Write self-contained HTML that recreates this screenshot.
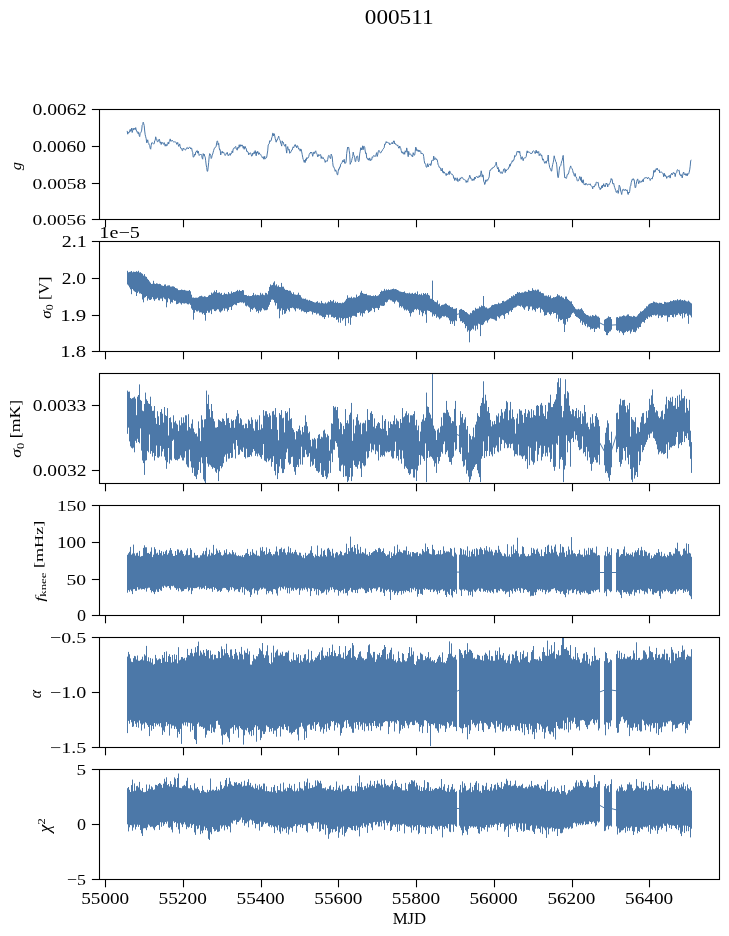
<!DOCTYPE html><html><head><meta charset="utf-8"><style>html,body{margin:0;padding:0;background:#fff;}svg{display:block;will-change:transform;}text{font-family:"Liberation Serif",serif;fill:#000;stroke:#000;stroke-width:0px;}</style></head><body>
<svg width="729" height="936" viewBox="0 0 729 936">
<rect x="0" y="0" width="729" height="936" fill="#fff"/>
<defs>
<clipPath id="c0"><rect x="99.5" y="109.5" width="620.0" height="110.0"/></clipPath>
<clipPath id="c1"><rect x="99.5" y="241.5" width="620.0" height="110.0"/></clipPath>
<clipPath id="c2"><rect x="99.5" y="373.5" width="620.0" height="110.0"/></clipPath>
<clipPath id="c3"><rect x="99.5" y="505.5" width="620.0" height="110.0"/></clipPath>
<clipPath id="c4"><rect x="99.5" y="637.5" width="620.0" height="110.0"/></clipPath>
<clipPath id="c5"><rect x="99.5" y="769.5" width="620.0" height="110.0"/></clipPath>
</defs>
<path clip-path="url(#c0)" d="M127.2 130.9 127.7 134.2 128.2 132.2 128.7 133.1 129.2 132.3 129.7 130.6 130.2 129.4 130.7 131.4 131.2 130.8 131.7 128.0 132.2 132.5 132.7 130.6 133.2 128.4 133.7 129.9 134.2 128.0 134.7 128.5 135.2 129.6 135.7 127.6 136.2 129.9 136.7 131.4 137.2 132.3 137.7 131.6 138.2 133.9 138.7 132.3 139.2 135.4 139.7 136.6 140.2 133.2 140.7 132.7 141.2 131.9 141.7 130.1 142.2 125.2 142.7 124.7 143.2 122.2 143.7 123.7 144.2 125.5 144.7 131.0 145.2 134.8 145.7 136.8 146.2 138.7 146.7 142.8 147.2 141.8 147.7 139.8 148.2 142.8 148.7 143.3 149.2 145.0 149.7 145.4 150.2 148.3 150.7 149.2 151.2 145.3 151.7 142.8 152.2 142.5 152.7 142.9 153.2 143.6 153.7 144.1 154.2 143.7 154.7 140.7 155.2 140.4 155.7 136.8 156.2 138.7 156.7 139.0 157.2 141.6 157.7 141.9 158.2 140.7 158.7 141.0 159.2 139.1 159.7 140.7 160.2 143.1 160.7 141.9 161.2 144.5 161.7 142.3 162.2 142.8 162.7 142.6 163.2 143.8 163.7 144.4 164.2 142.6 164.7 143.9 165.2 146.2 165.7 144.4 166.2 144.2 166.7 145.9 167.2 145.5 167.7 144.3 168.2 142.1 168.7 144.0 169.2 141.5 169.7 141.1 170.2 138.9 170.7 141.2 171.2 140.8 171.7 141.2 172.2 140.2 172.7 141.0 173.2 141.6 173.7 142.0 174.2 141.8 174.7 141.9 175.2 142.0 175.7 142.1 176.2 142.4 176.7 144.3 177.2 143.9 177.7 142.4 178.2 144.7 178.7 146.4 179.2 145.2 179.7 143.9 180.2 146.5 180.7 148.3 181.2 148.4 181.7 148.4 182.2 150.7 182.7 150.6 183.2 148.1 183.7 148.9 184.2 148.6 184.7 149.2 185.2 150.2 185.7 149.8 186.2 148.9 186.7 147.8 187.2 147.4 187.7 148.0 188.2 149.0 188.7 147.9 189.2 147.3 189.7 147.3 190.2 147.4 190.7 149.0 191.2 148.1 191.7 148.2 192.2 151.2 192.7 152.3 193.2 157.2 193.7 157.0 194.2 156.1 194.7 154.0 195.2 155.1 195.7 152.1 196.2 152.1 196.7 150.9 197.2 150.5 197.7 153.2 198.2 151.1 198.7 153.4 199.2 155.5 199.7 155.0 200.2 154.3 200.7 155.0 201.2 154.4 201.7 155.5 202.2 158.2 202.7 159.2 203.2 153.6 203.7 155.4 204.2 154.1 204.7 156.1 205.2 157.1 205.7 160.8 206.2 165.0 206.7 167.6 207.2 171.3 207.7 171.2 208.2 167.1 208.7 162.3 209.2 156.4 209.7 153.6 210.2 154.1 210.7 155.3 211.2 158.5 211.7 157.5 212.2 155.2 212.7 154.1 213.2 152.2 213.7 150.3 214.2 148.8 214.7 147.8 215.2 147.7 215.7 147.0 216.2 146.1 216.7 142.7 217.2 140.9 217.7 141.3 218.2 145.0 218.7 143.3 219.2 147.8 219.7 150.0 220.2 149.6 220.7 155.0 221.2 152.7 221.7 152.4 222.2 151.2 222.7 153.1 223.2 152.6 223.7 152.2 224.2 153.6 224.7 154.6 225.2 155.5 225.7 154.6 226.2 153.5 226.7 154.1 227.2 152.3 227.7 154.2 228.2 155.8 228.7 155.2 229.2 154.2 229.7 153.6 230.2 155.4 230.7 153.6 231.2 153.9 231.7 152.7 232.2 150.9 232.7 152.7 233.2 148.9 233.7 148.3 234.2 148.5 234.7 147.4 235.2 146.9 235.7 146.4 236.2 149.0 236.7 148.9 237.2 150.2 237.7 147.4 238.2 147.2 238.7 148.3 239.2 144.8 239.7 147.2 240.2 144.7 240.7 146.2 241.2 144.9 241.7 146.1 242.2 144.9 242.7 145.8 243.2 148.2 243.7 146.3 244.2 149.3 244.7 146.9 245.2 146.4 245.7 148.3 246.2 148.4 246.7 151.4 247.2 151.1 247.7 152.1 248.2 152.2 248.7 154.9 249.2 153.5 249.7 153.7 250.2 152.7 250.7 153.1 251.2 154.8 251.7 156.2 252.2 155.8 252.7 153.1 253.2 154.2 253.7 153.3 254.2 151.8 254.7 153.6 255.2 150.6 255.7 153.4 256.2 155.8 256.7 151.9 257.2 153.2 257.7 151.3 258.2 152.7 258.7 154.5 259.2 152.7 259.7 154.0 260.2 154.0 260.7 154.5 261.2 155.6 261.7 156.4 262.2 157.7 262.7 157.8 263.2 156.7 263.7 159.1 264.2 159.2 264.7 156.3 265.2 158.8 265.7 158.5 266.2 158.1 266.7 157.2 267.2 154.0 267.7 150.9 268.2 145.0 268.7 144.2 269.2 143.8 269.7 140.7 270.2 141.5 270.7 140.6 271.2 140.5 271.7 137.9 272.2 136.7 272.7 133.2 273.2 133.4 273.7 136.0 274.2 133.7 274.7 135.7 275.2 138.3 275.7 140.5 276.2 142.2 276.7 140.1 277.2 140.3 277.7 138.5 278.2 137.5 278.7 136.1 279.2 138.6 279.7 139.7 280.2 140.6 280.7 143.1 281.2 144.2 281.7 146.1 282.2 140.9 282.7 142.6 283.2 142.1 283.7 143.9 284.2 145.1 284.7 146.1 285.2 146.4 285.7 144.2 286.2 149.5 286.7 153.1 287.2 148.0 287.7 146.6 288.2 149.1 288.7 150.2 289.2 149.3 289.7 153.3 290.2 152.3 290.7 152.5 291.2 151.2 291.7 150.1 292.2 150.0 292.7 148.1 293.2 146.8 293.7 147.8 294.2 146.6 294.7 145.1 295.2 144.5 295.7 146.3 296.2 145.9 296.7 147.8 297.2 145.6 297.7 145.9 298.2 147.6 298.7 149.2 299.2 148.8 299.7 149.1 300.2 151.2 300.7 148.9 301.2 149.4 301.7 151.9 302.2 154.4 302.7 157.2 303.2 159.6 303.7 160.0 304.2 162.3 304.7 160.1 305.2 162.5 305.7 158.9 306.2 160.5 306.7 157.7 307.2 158.6 307.7 157.7 308.2 157.8 308.7 156.8 309.2 154.5 309.7 153.4 310.2 153.5 310.7 152.0 311.2 152.8 311.7 152.0 312.2 154.0 312.7 156.3 313.2 154.3 313.7 152.2 314.2 152.1 314.7 153.6 315.2 151.7 315.7 150.8 316.2 152.5 316.7 153.5 317.2 154.5 317.7 156.9 318.2 156.2 318.7 154.5 319.2 155.6 319.7 154.9 320.2 154.8 320.7 154.6 321.2 158.5 321.7 156.6 322.2 157.9 322.7 158.5 323.2 157.5 323.7 158.9 324.2 159.5 324.7 159.7 325.2 162.4 325.7 160.9 326.2 160.9 326.7 161.2 327.2 161.4 327.7 159.5 328.2 156.8 328.7 155.4 329.2 155.6 329.7 156.6 330.2 158.3 330.7 158.6 331.2 154.1 331.7 155.5 332.2 156.5 332.7 162.4 333.2 166.6 333.7 166.6 334.2 168.2 334.7 168.9 335.2 171.3 335.7 169.9 336.2 171.2 336.7 172.4 337.2 174.6 337.7 174.9 338.2 171.3 338.7 168.9 339.2 169.3 339.7 167.0 340.2 167.2 340.7 164.2 341.2 163.8 341.7 162.9 342.2 162.3 342.7 160.4 343.2 162.0 343.7 161.1 344.2 159.3 344.7 163.3 345.2 163.1 345.7 163.2 346.2 160.9 346.7 153.5 347.2 150.0 347.7 147.0 348.2 147.7 348.7 147.3 349.2 150.5 349.7 154.2 350.2 164.3 350.7 162.7 351.2 162.4 351.7 160.3 352.2 158.2 352.7 156.7 353.2 152.1 353.7 154.9 354.2 155.7 354.7 157.8 355.2 161.5 355.7 161.6 356.2 158.1 356.7 156.4 357.2 155.9 357.7 156.1 358.2 160.7 358.7 161.7 359.2 160.5 359.7 153.9 360.2 151.4 360.7 147.8 361.2 147.8 361.7 150.0 362.2 148.9 362.7 145.8 363.2 149.7 363.7 146.5 364.2 146.3 364.7 147.2 365.2 151.0 365.7 153.6 366.2 152.9 366.7 158.0 367.2 158.1 367.7 159.4 368.2 158.5 368.7 160.1 369.2 159.9 369.7 157.9 370.2 160.8 370.7 159.5 371.2 159.8 371.7 159.9 372.2 156.9 372.7 157.4 373.2 156.1 373.7 155.5 374.2 156.3 374.7 155.9 375.2 156.5 375.7 156.0 376.2 154.0 376.7 152.6 377.2 156.5 377.7 154.9 378.2 151.9 378.7 150.5 379.2 150.5 379.7 151.6 380.2 152.8 380.7 152.8 381.2 152.5 381.7 151.1 382.2 150.8 382.7 149.5 383.2 149.1 383.7 148.2 384.2 147.8 384.7 143.9 385.2 144.4 385.7 143.2 386.2 141.6 386.7 142.8 387.2 141.9 387.7 142.4 388.2 143.0 388.7 143.1 389.2 142.9 389.7 144.8 390.2 144.0 390.7 144.1 391.2 143.8 391.7 142.7 392.2 142.3 392.7 144.0 393.2 142.5 393.7 140.9 394.2 140.9 394.7 144.0 395.2 143.4 395.7 144.5 396.2 144.4 396.7 145.0 397.2 145.7 397.7 144.9 398.2 146.6 398.7 148.1 399.2 148.2 399.7 146.0 400.2 147.3 400.7 148.3 401.2 150.5 401.7 152.7 402.2 153.1 402.7 151.8 403.2 153.8 403.7 154.1 404.2 152.3 404.7 154.3 405.2 150.8 405.7 151.9 406.2 152.2 406.7 147.9 407.2 150.4 407.7 152.8 408.2 156.7 408.7 151.4 409.2 154.3 409.7 154.2 410.2 153.8 410.7 154.1 411.2 155.2 411.7 156.2 412.2 155.5 412.7 156.8 413.2 152.7 413.7 154.5 414.2 155.3 414.7 155.0 415.2 151.8 415.7 147.1 416.2 147.9 416.7 150.7 417.2 150.7 417.7 149.7 418.2 151.5 418.7 150.2 419.2 151.8 419.7 150.3 420.2 150.8 420.7 151.4 421.2 153.9 421.7 153.1 422.2 153.7 422.7 153.5 423.2 154.0 423.7 156.5 424.2 160.4 424.7 163.3 425.2 163.4 425.7 164.2 426.2 167.0 426.7 167.4 427.2 166.3 427.7 163.6 428.2 166.9 428.7 165.2 429.2 164.6 429.7 164.4 430.2 163.7 430.7 165.6 431.2 164.6 431.7 160.5 432.2 160.5 432.7 160.1 433.2 160.7 433.7 156.1 434.2 159.3 434.7 159.6 435.2 157.7 435.7 158.2 436.2 159.9 436.7 159.2 437.2 159.6 437.7 162.3 438.2 164.9 438.7 165.6 439.2 167.4 439.7 167.1 440.2 168.0 440.7 169.1 441.2 171.0 441.7 169.8 442.2 168.2 442.7 172.4 443.2 171.3 443.7 173.2 444.2 171.9 444.7 173.2 445.2 173.3 445.7 173.9 446.2 175.6 446.7 173.5 447.2 174.4 447.7 174.5 448.2 173.8 448.7 171.8 449.2 174.6 449.7 170.9 450.2 172.2 450.7 173.2 451.2 174.0 451.7 174.3 452.2 174.2 452.7 175.1 453.2 175.3 453.7 178.3 454.2 177.9 454.7 180.5 455.2 177.8 455.7 179.3 456.2 179.8 456.7 180.4 457.2 177.8 457.7 181.3 458.2 181.5 458.7 180.9 459.2 179.0 459.7 180.6 460.2 177.9 460.7 179.0 461.2 177.5 461.7 177.4 462.2 177.4 462.7 177.7 463.2 179.1 463.7 179.6 464.2 179.8 464.7 179.6 465.2 180.0 465.7 180.4 466.2 182.5 466.7 180.8 467.2 181.2 467.7 182.2 468.2 178.9 468.7 178.9 469.2 177.6 469.7 175.2 470.2 176.4 470.7 178.6 471.2 178.3 471.7 179.4 472.2 180.7 472.7 179.2 473.2 178.8 473.7 180.3 474.2 180.2 474.7 177.0 475.2 179.0 475.7 177.2 476.2 176.7 476.7 176.1 477.2 176.7 477.7 177.8 478.2 177.1 478.7 177.3 479.2 175.6 479.7 177.1 480.2 176.2 480.7 174.2 481.2 170.8 481.7 173.4 482.2 177.1 482.7 174.7 483.2 175.1 483.7 181.4 484.2 182.0 484.7 184.5 485.2 183.6 485.7 179.9 486.2 180.5 486.7 181.4 487.2 179.5 487.7 180.3 488.2 179.3 488.7 178.2 489.2 176.9 489.7 171.4 490.2 170.0 490.7 170.3 491.2 168.9 491.7 168.5 492.2 168.8 492.7 168.2 493.2 167.0 493.7 167.4 494.2 167.1 494.7 166.2 495.2 165.2 495.7 164.8 496.2 162.1 496.7 165.3 497.2 167.4 497.7 169.0 498.2 167.4 498.7 172.0 499.2 169.7 499.7 171.6 500.2 172.5 500.7 173.3 501.2 171.7 501.7 172.2 502.2 173.6 502.7 172.4 503.2 171.3 503.7 169.1 504.2 168.9 504.7 168.7 505.2 172.6 505.7 169.6 506.2 171.1 506.7 169.9 507.2 169.7 507.7 169.2 508.2 169.2 508.7 167.3 509.2 167.4 509.7 164.4 510.2 166.2 510.7 164.0 511.2 163.0 511.7 162.8 512.2 160.8 512.7 161.6 513.2 160.0 513.7 160.4 514.2 158.8 514.7 155.5 515.2 156.5 515.7 156.0 516.2 155.1 516.7 153.1 517.2 151.2 517.7 151.8 518.2 151.8 518.7 151.0 519.2 153.0 519.7 151.4 520.2 154.7 520.7 156.4 521.2 159.3 521.7 157.5 522.2 156.7 522.7 158.8 523.2 160.7 523.7 158.3 524.2 158.2 524.7 157.8 525.2 157.9 525.7 157.6 526.2 156.5 526.7 153.1 527.2 150.8 527.7 153.0 528.2 151.6 528.7 152.1 529.2 152.1 529.7 152.5 530.2 153.3 530.7 153.0 531.2 154.0 531.7 153.3 532.2 153.1 532.7 151.3 533.2 150.8 533.7 151.1 534.2 151.4 534.7 151.9 535.2 153.6 535.7 151.4 536.2 150.2 536.7 152.9 537.2 151.5 537.7 153.2 538.2 152.2 538.7 151.5 539.2 155.7 539.7 154.2 540.2 153.8 540.7 153.9 541.2 155.9 541.7 155.0 542.2 157.8 542.7 160.2 543.2 158.9 543.7 160.6 544.2 161.8 544.7 163.3 545.2 162.7 545.7 161.4 546.2 163.3 546.7 161.0 547.2 160.9 547.7 159.7 548.2 155.0 548.7 162.6 549.2 164.6 549.7 167.6 550.2 168.8 550.7 168.8 551.2 171.1 551.7 171.1 552.2 167.1 552.7 164.4 553.2 162.7 553.7 159.9 554.2 155.8 554.7 158.3 555.2 159.4 555.7 161.5 556.2 162.0 556.7 164.8 557.2 170.1 557.7 176.1 558.2 177.7 558.7 175.1 559.2 170.2 559.7 166.7 560.2 166.4 560.7 165.7 561.2 163.6 561.7 161.1 562.2 160.3 562.7 157.3 563.2 155.4 563.7 163.9 564.2 171.1 564.7 177.6 565.2 177.0 565.7 177.8 566.2 178.5 566.7 177.4 567.2 174.8 567.7 174.0 568.2 174.3 568.7 173.1 569.2 170.4 569.7 169.3 570.2 167.2 570.7 165.9 571.2 167.6 571.7 168.3 572.2 168.8 572.7 170.5 573.2 172.9 573.7 172.9 574.2 175.5 574.7 176.3 575.2 173.5 575.7 176.5 576.2 177.0 576.7 178.4 577.2 180.5 577.7 181.1 578.2 180.9 578.7 179.7 579.2 178.7 579.7 176.5 580.2 177.7 580.7 180.4 581.2 176.9 581.7 182.2 582.2 180.5 582.7 183.1 583.2 179.7 583.7 182.9 584.2 184.6 584.7 184.0 585.2 185.1 585.7 183.2 586.2 183.7 586.7 183.7 587.2 185.1 587.7 185.0 588.2 184.4 588.7 184.2 589.2 184.2 589.7 184.6 590.2 183.8 590.7 185.4 591.2 185.9 591.7 186.1 592.2 186.7 592.7 188.9 593.2 186.1 593.7 186.6 594.2 187.1 594.7 185.8 595.2 184.5 595.7 185.3 596.2 182.2 596.7 182.1 597.2 182.7 597.7 182.6 598.2 182.4 598.7 186.3 599.2 187.8 599.7 187.6 600.2 189.7 600.7 188.0 601.2 188.5 601.7 185.8 602.2 188.0 602.7 185.0 603.2 186.0 603.7 183.7 604.2 186.5 604.7 185.5 605.2 186.8 605.7 184.7 606.2 183.0 606.7 184.1 607.2 183.7 607.7 187.0 608.2 184.8 608.7 184.3 609.2 184.7 609.7 183.3 610.2 182.5 610.7 180.4 611.2 178.5 611.7 179.8 612.2 179.4 612.7 183.8 613.2 184.0 613.7 183.3 614.2 185.9 614.7 187.5 615.2 189.0 615.7 190.4 616.2 192.3 616.7 192.4 617.2 190.6 617.7 190.7 618.2 193.4 618.7 190.7 619.2 185.2 619.7 186.2 620.2 187.4 620.7 191.3 621.2 192.6 621.7 194.5 622.2 191.0 622.7 189.5 623.2 189.1 623.7 189.8 624.2 190.7 624.7 189.7 625.2 190.0 625.7 189.3 626.2 190.9 626.7 190.3 627.2 189.9 627.7 193.7 628.2 194.5 628.7 192.0 629.2 192.9 629.7 191.3 630.2 186.6 630.7 186.0 631.2 182.7 631.7 181.0 632.2 179.4 632.7 180.1 633.2 178.6 633.7 179.8 634.2 179.7 634.7 184.2 635.2 187.9 635.7 187.4 636.2 184.4 636.7 181.3 637.2 179.9 637.7 178.9 638.2 181.4 638.7 183.7 639.2 181.8 639.7 180.7 640.2 182.4 640.7 181.9 641.2 182.3 641.7 181.1 642.2 181.4 642.7 179.7 643.2 181.9 643.7 178.8 644.2 178.6 644.7 178.3 645.2 177.4 645.7 178.2 646.2 177.6 646.7 177.6 647.2 178.0 647.7 179.0 648.2 177.2 648.7 177.7 649.2 178.0 649.7 178.5 650.2 180.5 650.7 179.3 651.2 178.5 651.7 178.5 652.2 179.1 652.7 176.6 653.2 176.5 653.7 170.6 654.2 170.2 654.7 172.3 655.2 171.9 655.7 169.9 656.2 168.7 656.7 169.7 657.2 168.1 657.7 169.9 658.2 170.1 658.7 170.6 659.2 169.8 659.7 172.8 660.2 172.0 660.7 172.0 661.2 171.8 661.7 172.1 662.2 172.9 662.7 173.5 663.2 173.8 663.7 176.8 664.2 173.2 664.7 175.8 665.2 174.8 665.7 176.4 666.2 176.1 666.7 178.4 667.2 177.1 667.7 176.7 668.2 176.2 668.7 177.1 669.2 175.3 669.7 176.0 670.2 178.1 670.7 174.9 671.2 174.0 671.7 173.2 672.2 174.9 672.7 173.8 673.2 172.5 673.7 172.6 674.2 173.8 674.7 172.9 675.2 176.6 675.7 173.7 676.2 173.0 676.7 172.5 677.2 169.9 677.7 169.6 678.2 170.2 678.7 170.7 679.2 170.3 679.7 174.6 680.2 174.2 680.7 175.9 681.2 176.0 681.7 174.7 682.2 177.9 682.7 175.4 683.2 172.9 683.7 172.0 684.2 174.3 684.7 174.9 685.2 173.7 685.7 175.3 686.2 173.7 686.7 175.4 687.2 176.0 687.7 173.5 688.2 174.3 688.7 173.8 689.2 172.2 689.7 169.9 690.2 166.2 690.7 160.8 691.2 159.8" fill="none" stroke="#4c78a8" stroke-width="1.00" stroke-linejoin="round"/>
<path clip-path="url(#c1)" d="M127.5 270.8V284.5M128.5 272.3V285.6M129.5 271.9V287.4M130.5 271.7V289.3M131.5 271.0V294.2M132.5 272.3V289.0M133.5 271.6V290.5M134.5 271.9V291.4M135.5 271.9V292.1M136.5 271.2V296.0M137.5 271.8V292.9M138.5 270.8V291.6M139.5 272.5V293.5M140.5 272.2V293.4M141.5 273.2V294.1M142.5 273.8V299.5M143.5 275.6V302.3M144.5 274.1V297.7M145.5 276.4V297.1M146.5 276.9V296.0M147.5 278.8V300.6M148.5 279.9V298.6M149.5 281.4V299.9M150.5 282.7V300.0M151.5 284.0V299.2M152.5 283.8V297.2M153.5 280.8V299.3M154.5 283.5V300.9M155.5 284.0V299.3M156.5 283.3V298.8M157.5 283.6V297.8M158.5 284.1V300.2M159.5 283.8V300.4M160.5 284.1V298.6M161.5 285.3V298.6M162.5 285.7V301.1M163.5 286.0V297.5M164.5 284.6V298.8M165.5 284.4V299.4M166.5 286.2V307.3M167.5 285.6V302.3M168.5 285.4V298.3M169.5 285.3V299.3M170.5 286.6V303.7M171.5 286.6V302.1M172.5 286.3V302.6M173.5 286.4V299.9M174.5 286.9V300.9M175.5 288.0V300.8M176.5 288.3V304.2M177.5 288.7V304.0M178.5 290.1V303.4M179.5 290.1V302.6M180.5 290.0V303.4M181.5 289.5V304.6M182.5 289.9V303.1M183.5 290.1V303.4M184.5 289.9V303.6M185.5 290.4V303.2M186.5 290.7V303.4M187.5 290.8V304.2M188.5 290.8V304.4M189.5 290.0V303.6M190.5 291.3V304.9M191.5 294.7V308.5M192.5 297.6V309.9M193.5 297.5V319.7M194.5 297.9V312.8M195.5 297.7V310.1M196.5 297.7V311.4M197.5 297.8V311.5M198.5 297.2V310.7M199.5 296.3V312.5M200.5 296.1V312.3M201.5 295.7V312.5M202.5 296.5V314.2M203.5 296.8V313.1M204.5 296.2V314.9M205.5 296.6V320.7M206.5 297.1V313.0M207.5 297.0V310.8M208.5 295.7V312.7M209.5 294.9V312.6M210.5 295.0V310.5M211.5 292.6V314.1M212.5 293.5V309.3M213.5 292.4V309.3M214.5 290.6V311.0M215.5 292.1V311.2M216.5 290.0V310.3M217.5 292.9V309.2M218.5 292.7V309.4M219.5 292.3V311.6M220.5 293.7V312.5M221.5 292.9V311.3M222.5 295.0V310.4M223.5 294.5V308.4M224.5 292.8V310.8M225.5 294.0V308.5M226.5 293.8V308.7M227.5 294.3V311.5M228.5 292.0V310.0M229.5 293.5V307.3M230.5 293.7V306.9M231.5 291.4V310.0M232.5 292.9V306.3M233.5 292.0V305.1M234.5 292.1V304.3M235.5 291.7V304.8M236.5 291.0V305.3M237.5 289.9V303.0M238.5 291.2V303.0M239.5 289.9V302.6M240.5 291.0V302.2M241.5 290.9V302.6M242.5 290.0V302.3M243.5 290.3V303.3M244.5 294.9V302.6M245.5 295.0V305.7M246.5 295.1V306.4M247.5 296.0V305.5M248.5 295.5V306.7M249.5 296.1V307.6M250.5 296.0V311.8M251.5 296.0V309.0M252.5 295.1V309.9M253.5 292.9V308.3M254.5 295.3V307.6M255.5 294.4V309.2M256.5 295.3V311.8M257.5 294.9V310.9M258.5 295.1V313.2M259.5 295.4V310.5M260.5 292.8V311.8M261.5 294.6V310.4M262.5 293.4V308.2M263.5 294.8V309.3M264.5 295.2V310.4M265.5 292.8V310.2M266.5 293.1V310.2M267.5 294.4V309.6M268.5 291.1V306.8M269.5 286.9V304.8M270.5 284.4V302.0M271.5 285.3V299.7M272.5 284.9V299.5M273.5 282.6V300.0M274.5 281.3V302.4M275.5 285.4V305.5M276.5 284.3V303.1M277.5 286.5V309.2M278.5 285.4V308.7M279.5 287.0V318.3M280.5 287.1V310.7M281.5 282.9V308.4M282.5 286.7V314.7M283.5 286.7V310.0M284.5 288.7V313.9M285.5 289.9V313.4M286.5 289.9V311.2M287.5 290.0V308.7M288.5 290.8V310.1M289.5 290.6V311.6M290.5 290.8V308.0M291.5 292.6V308.1M292.5 294.0V307.6M293.5 292.3V308.2M294.5 294.4V309.5M295.5 294.6V311.3M296.5 294.9V308.2M297.5 294.6V308.7M298.5 292.7V308.4M299.5 294.9V309.8M300.5 295.3V309.3M301.5 297.4V311.5M302.5 298.6V310.7M303.5 298.6V311.4M304.5 298.9V312.2M305.5 298.5V312.0M306.5 299.7V313.4M307.5 299.7V312.0M308.5 300.6V312.0M309.5 299.9V311.4M310.5 300.8V311.2M311.5 301.0V311.7M312.5 301.5V314.5M313.5 302.0V312.4M314.5 302.4V313.0M315.5 302.6V312.8M316.5 301.9V314.5M317.5 301.2V313.5M318.5 302.8V313.5M319.5 302.5V315.5M320.5 303.3V315.4M321.5 300.9V315.9M322.5 302.9V317.2M323.5 303.4V317.1M324.5 303.5V319.0M325.5 302.4V317.0M326.5 303.5V314.7M327.5 302.6V314.9M328.5 301.4V317.6M329.5 302.1V314.7M330.5 300.0V314.7M331.5 301.3V317.1M332.5 301.3V316.8M333.5 299.9V317.6M334.5 302.8V317.9M335.5 301.5V317.0M336.5 302.9V319.9M337.5 301.9V319.4M338.5 303.1V322.4M339.5 302.9V317.7M340.5 302.9V322.8M341.5 303.3V318.0M342.5 302.5V320.6M343.5 302.8V319.2M344.5 301.8V318.1M345.5 300.5V325.8M346.5 298.9V318.2M347.5 295.3V318.1M348.5 297.8V323.2M349.5 297.6V316.9M350.5 297.8V324.8M351.5 296.7V317.6M352.5 298.2V315.9M353.5 297.3V315.8M354.5 297.4V315.9M355.5 297.7V316.5M356.5 294.6V316.9M357.5 296.9V312.9M358.5 296.0V313.0M359.5 295.4V312.3M360.5 292.6V315.6M361.5 290.8V313.3M362.5 293.0V316.6M363.5 293.7V313.1M364.5 293.9V313.5M365.5 294.0V310.9M366.5 293.8V309.9M367.5 295.2V310.6M368.5 295.2V312.9M369.5 295.3V312.0M370.5 295.3V311.2M371.5 296.0V310.5M372.5 296.0V307.9M373.5 295.5V308.8M374.5 296.1V312.1M375.5 295.0V308.1M376.5 296.1V307.9M377.5 295.8V308.2M378.5 295.3V310.0M379.5 294.1V307.9M380.5 292.0V305.5M381.5 290.6V305.8M382.5 291.2V305.9M383.5 290.8V306.0M384.5 288.9V305.4M385.5 290.5V302.1M386.5 289.3V302.5M387.5 290.1V301.7M388.5 289.3V299.8M389.5 290.0V299.5M390.5 289.6V300.3M391.5 289.4V300.4M392.5 289.0V301.6M393.5 288.6V301.9M394.5 289.2V303.6M395.5 289.0V301.6M396.5 289.4V300.4M397.5 290.0V301.7M398.5 290.5V302.4M399.5 291.3V307.5M400.5 291.6V306.0M401.5 291.9V307.5M402.5 292.1V306.4M403.5 292.0V308.5M404.5 291.4V310.3M405.5 292.9V309.5M406.5 293.3V310.6M407.5 293.1V309.7M408.5 293.4V310.9M409.5 292.7V313.1M410.5 293.7V316.5M411.5 293.5V313.2M412.5 292.9V311.8M413.5 294.0V312.2M414.5 293.3V309.7M415.5 292.7V309.0M416.5 294.0V310.2M417.5 291.4V308.9M418.5 294.8V309.8M419.5 294.1V314.8M420.5 294.7V310.5M421.5 293.5V312.2M422.5 295.2V316.2M423.5 293.0V313.2M424.5 294.0V310.9M425.5 293.1V314.4M426.5 294.5V322.8M427.5 293.0V310.4M428.5 294.9V310.8M429.5 295.6V311.0M430.5 298.7V312.2M431.5 298.8V312.4M432.5 280.6V316.6M433.5 300.0V314.4M434.5 301.4V316.0M435.5 301.9V314.3M436.5 302.3V317.8M437.5 300.4V316.6M438.5 304.3V317.5M439.5 303.6V319.3M440.5 306.2V318.4M441.5 305.1V317.6M442.5 304.8V316.1M443.5 304.7V316.5M444.5 304.2V316.6M445.5 303.4V315.9M446.5 303.8V317.3M447.5 305.0V317.3M448.5 305.6V318.2M449.5 305.6V320.3M450.5 307.0V324.0M451.5 307.4V321.3M452.5 307.1V323.9M453.5 308.8V321.3M454.5 308.8V325.9M455.5 308.7V320.4M456.5 308.1V321.1M456.5 314.5 L459.5 313.7M459.5 309.9V318.2M460.5 309.2V321.3M461.5 308.9V321.1M462.5 309.9V322.9M463.5 310.0V322.3M464.5 310.9V324.1M465.5 312.0V328.2M466.5 312.1V326.1M467.5 313.2V331.7M468.5 314.2V330.3M469.5 314.6V342.3M470.5 312.8V331.2M471.5 313.2V329.9M472.5 310.7V328.7M473.5 310.1V329.5M474.5 310.6V325.6M475.5 307.8V330.7M476.5 308.9V325.7M477.5 308.6V329.3M478.5 308.5V323.7M479.5 306.4V324.2M480.5 307.2V336.1M481.5 305.5V324.9M482.5 306.1V325.1M483.5 296.0V324.3M484.5 306.2V322.3M485.5 307.5V320.8M486.5 307.4V320.6M487.5 308.5V322.6M488.5 308.4V320.3M489.5 307.8V319.2M490.5 307.2V318.3M491.5 305.6V318.7M492.5 304.9V318.9M493.5 305.0V319.2M494.5 304.3V319.6M495.5 304.1V320.5M496.5 304.1V320.8M497.5 304.2V316.3M498.5 302.7V317.2M499.5 303.6V318.4M500.5 303.4V316.3M501.5 303.0V315.4M502.5 301.0V314.9M503.5 300.8V315.7M504.5 301.6V318.9M505.5 301.2V313.9M506.5 300.4V313.1M507.5 299.6V313.0M508.5 299.3V314.7M509.5 298.1V311.4M510.5 298.1V310.5M511.5 296.2V312.0M512.5 296.5V310.0M513.5 295.2V308.2M514.5 295.8V307.6M515.5 294.0V307.4M516.5 293.8V306.7M517.5 292.0V305.7M518.5 292.7V305.7M519.5 292.1V306.0M520.5 293.0V306.7M521.5 292.6V305.6M522.5 292.4V307.1M523.5 292.6V308.4M524.5 291.7V309.8M525.5 291.3V307.4M526.5 291.8V306.3M527.5 291.9V306.3M528.5 289.9V311.0M529.5 290.6V309.3M530.5 291.0V306.6M531.5 290.9V306.5M532.5 288.2V310.3M533.5 289.9V309.1M534.5 290.4V310.1M535.5 289.7V311.7M536.5 290.6V308.3M537.5 289.6V309.0M538.5 289.6V307.9M539.5 291.8V307.5M540.5 291.6V312.7M541.5 293.1V308.9M542.5 293.1V309.9M543.5 293.4V311.8M544.5 295.7V315.7M545.5 295.7V315.2M546.5 295.6V315.0M547.5 296.4V312.5M548.5 295.1V312.4M549.5 296.9V314.0M550.5 295.5V315.4M551.5 298.3V313.9M552.5 298.0V312.0M553.5 297.1V313.7M554.5 297.3V313.0M555.5 297.0V313.0M556.5 296.3V318.5M557.5 294.1V314.7M558.5 295.3V321.8M559.5 295.4V318.8M560.5 296.8V320.2M561.5 296.1V320.0M562.5 297.4V319.2M563.5 297.7V323.7M564.5 299.1V332.0M565.5 296.6V324.7M566.5 296.6V319.0M567.5 298.9V321.7M568.5 299.9V318.1M569.5 300.8V318.0M570.5 301.5V317.1M571.5 301.3V314.5M572.5 304.1V313.1M573.5 305.7V312.6M574.5 307.1V313.8M575.5 308.7V316.0M576.5 309.3V316.9M577.5 309.4V317.3M578.5 308.8V318.1M579.5 309.5V319.0M580.5 309.1V322.6M581.5 308.2V320.8M582.5 309.7V324.9M583.5 311.2V322.4M584.5 313.1V324.6M585.5 313.9V326.1M586.5 314.9V323.9M587.5 315.0V327.4M588.5 315.6V326.5M589.5 316.4V327.0M590.5 315.7V329.5M591.5 316.5V328.6M592.5 315.0V329.0M593.5 315.6V328.3M594.5 316.0V332.0M595.5 314.7V328.9M596.5 315.6V329.0M597.5 316.5V327.7M598.5 316.6V327.7M599.5 317.8V328.8M599.5 322.7 L604.5 325.3M604.5 319.7V330.9M605.5 319.0V332.0M606.5 318.5V335.1M607.5 317.8V335.2M608.5 316.3V333.0M609.5 317.1V331.6M610.5 317.0V331.3M611.5 319.1V329.7M611.5 325.1 L616.5 324.8M616.5 317.3V330.1M617.5 317.0V330.9M618.5 317.9V330.3M619.5 316.5V332.7M620.5 316.5V331.1M621.5 316.6V331.7M622.5 316.0V333.2M623.5 315.3V335.1M624.5 315.7V332.7M625.5 316.3V332.1M626.5 315.6V330.9M627.5 314.5V332.0M628.5 314.4V331.1M629.5 316.0V330.5M630.5 316.2V333.6M631.5 316.3V331.7M632.5 316.9V329.5M633.5 315.8V332.0M634.5 316.1V331.9M635.5 316.8V332.3M636.5 316.7V330.6M637.5 315.5V327.7M638.5 314.1V328.7M639.5 313.2V327.0M640.5 311.4V327.0M641.5 311.7V323.5M642.5 311.0V321.9M643.5 310.2V321.9M644.5 308.7V322.8M645.5 308.2V320.0M646.5 306.3V318.3M647.5 306.4V319.0M648.5 304.6V316.6M649.5 303.8V317.3M650.5 303.4V316.3M651.5 303.0V317.1M652.5 302.9V315.0M653.5 301.5V315.3M654.5 301.9V314.8M655.5 302.5V315.7M656.5 302.4V315.3M657.5 302.9V314.5M658.5 303.4V318.1M659.5 302.7V315.7M660.5 302.9V315.6M661.5 302.9V317.6M662.5 303.8V317.1M663.5 304.0V315.0M664.5 301.8V315.7M665.5 302.1V315.6M666.5 302.5V315.5M667.5 302.3V321.7M668.5 302.3V317.2M669.5 302.0V317.1M670.5 300.8V315.0M671.5 301.2V315.0M672.5 301.1V317.0M673.5 300.0V317.5M674.5 300.5V314.4M675.5 300.2V316.8M676.5 300.4V315.2M677.5 299.2V314.9M678.5 300.3V313.3M679.5 299.9V314.6M680.5 299.3V316.0M681.5 300.4V313.9M682.5 300.0V318.5M683.5 300.7V313.1M684.5 299.9V317.4M685.5 300.7V314.2M686.5 301.3V313.5M687.5 301.5V315.8M688.5 300.6V323.8M689.5 301.7V314.7M690.5 302.7V315.5M691.5 303.4V317.4" fill="none" stroke="#4c78a8" stroke-width="1.00" stroke-linejoin="round"/>
<path clip-path="url(#c2)" d="M127.5 390.6V433.8M128.5 391.8V427.6M129.5 391.6V441.4M130.5 398.0V446.4M131.5 398.8V447.8M132.5 398.1V448.5M133.5 397.6V447.6M134.5 396.7V452.3M135.5 398.6V440.8M136.5 415.2V442.8M137.5 396.7V438.8M138.5 395.0V442.0M139.5 384.4V443.3M140.5 399.9V428.4M141.5 400.9V450.6M142.5 410.6V460.5M143.5 411.2V463.1M144.5 404.0V474.9M145.5 392.6V460.6M146.5 399.3V460.2M147.5 400.9V450.9M148.5 403.4V452.3M149.5 404.0V434.5M150.5 396.7V453.8M151.5 406.2V451.1M152.5 410.9V456.6M153.5 410.7V452.9M154.5 406.0V460.5M155.5 417.9V456.0M156.5 423.9V445.5M157.5 411.2V457.4M158.5 416.3V457.8M159.5 425.0V456.5M160.5 412.0V445.9M161.5 409.1V456.4M162.5 413.7V451.5M163.5 422.6V448.9M164.5 407.0V456.7M165.5 415.2V460.3M166.5 416.0V468.8M167.5 408.1V462.2M168.5 435.5V448.0M169.5 418.0V463.6M170.5 417.3V459.7M171.5 422.3V460.5M172.5 428.4V440.9M173.5 415.3V439.7M174.5 422.3V458.7M175.5 420.8V460.1M176.5 423.5V459.8M177.5 424.7V460.5M178.5 431.1V459.1M179.5 420.4V458.6M180.5 425.3V455.4M181.5 417.3V457.5M182.5 423.2V460.4M183.5 417.4V460.5M184.5 422.6V457.6M185.5 415.3V451.2M186.5 415.4V464.4M187.5 430.5V466.7M188.5 414.2V467.5M189.5 427.0V449.6M190.5 428.4V461.3M191.5 423.7V467.4M192.5 419.4V472.9M193.5 428.5V467.8M194.5 432.2V475.9M195.5 433.8V476.6M196.5 433.4V479.1M197.5 436.5V474.6M198.5 421.4V470.0M199.5 428.3V461.9M200.5 441.1V472.9M201.5 415.3V457.4M202.5 419.7V463.3M203.5 427.4V479.3M204.5 419.4V481.3M205.5 419.1V483.2M206.5 390.6V457.0M207.5 403.9V463.5M208.5 394.7V466.7M209.5 409.2V464.5M210.5 417.3V465.3M211.5 404.0V466.8M212.5 411.0V468.8M213.5 418.8V467.4M214.5 421.3V468.0M215.5 427.6V471.6M216.5 427.6V472.9M217.5 427.0V469.4M218.5 419.4V481.1M219.5 420.2V471.3M220.5 421.1V466.0M221.5 421.9V468.3M222.5 418.4V466.7M223.5 418.9V463.2M224.5 421.1V456.7M225.5 425.1V454.6M226.5 413.2V461.7M227.5 418.4V453.7M228.5 417.9V458.7M229.5 423.0V458.5M230.5 427.8V453.0M231.5 419.4V458.0M232.5 421.0V457.6M233.5 420.0V443.5M234.5 427.8V449.5M235.5 419.4V458.5M236.5 416.3V440.0M237.5 410.1V445.8M238.5 413.7V454.9M239.5 423.3V454.4M240.5 418.1V449.7M241.5 419.4V451.4M242.5 425.2V452.0M243.5 424.8V447.5M244.5 428.3V457.0M245.5 423.5V458.5M246.5 423.8V448.8M247.5 428.1V457.4M248.5 419.4V457.1M249.5 420.7V457.0M250.5 423.9V454.9M251.5 417.3V456.4M252.5 419.8V452.3M253.5 428.4V449.0M254.5 430.7V450.9M255.5 419.4V455.9M256.5 421.7V453.7M257.5 419.6V456.4M258.5 430.1V453.5M259.5 415.3V455.3M260.5 429.6V457.1M261.5 424.5V458.8M262.5 428.2V454.9M263.5 410.1V444.0M264.5 415.7V460.5M265.5 411.2V461.1M266.5 411.2V462.2M267.5 414.3V458.5M268.5 417.1V461.4M269.5 413.2V460.2M270.5 415.5V458.6M271.5 429.1V466.7M272.5 411.4V462.0M273.5 410.9V456.2M274.5 414.7V470.9M275.5 408.1V475.3M276.5 417.2V464.1M277.5 429.8V479.1M278.5 440.3V473.1M279.5 413.1V466.5M280.5 414.9V459.1M281.5 410.1V468.5M282.5 418.3V473.1M283.5 417.7V472.9M284.5 432.4V469.2M285.5 411.1V459.0M286.5 413.1V452.4M287.5 411.7V448.7M288.5 420.6V462.5M289.5 408.1V464.7M290.5 419.1V463.8M291.5 418.2V457.1M292.5 428.1V456.7M293.5 429.7V467.0M294.5 432.2V471.6M295.5 439.4V474.9M296.5 431.0V467.0M297.5 431.5V464.8M298.5 429.1V467.1M299.5 425.6V459.1M300.5 430.5V464.5M301.5 434.5V446.7M302.5 427.0V464.7M303.5 432.2V457.2M304.5 425.6V457.2M305.5 415.3V449.9M306.5 421.9V454.4M307.5 426.3V457.1M308.5 433.2V456.5M309.5 431.7V453.2M310.5 439.9V466.7M311.5 446.4V461.6M312.5 438.8V465.7M313.5 439.6V464.6M314.5 437.9V458.9M315.5 439.3V468.0M316.5 448.5V470.8M317.5 438.3V471.2M318.5 434.8V472.9M319.5 434.1V471.7M320.5 438.9V463.1M321.5 436.7V474.8M322.5 437.4V477.0M323.5 430.7V477.0M324.5 429.7V470.6M325.5 433.5V476.2M326.5 437.3V479.1M327.5 434.3V477.4M328.5 435.8V473.5M329.5 450.7V460.8M330.5 439.5V472.9M331.5 423.3V453.5M332.5 423.8V462.1M333.5 406.0V449.6M334.5 407.5V449.8M335.5 406.7V441.3M336.5 410.1V443.0M337.5 407.0V446.7M338.5 418.5V457.7M339.5 429.2V470.8M340.5 422.1V471.4M341.5 423.5V465.5M342.5 434.2V464.6M343.5 425.9V477.0M344.5 429.1V465.7M345.5 409.1V476.3M346.5 423.0V476.2M347.5 420.3V482.1M348.5 423.5V480.6M349.5 414.8V477.0M350.5 412.7V468.0M351.5 402.9V481.1M352.5 440.8V476.5M353.5 419.4V460.6M354.5 433.4V465.0M355.5 425.5V466.7M356.5 417.2V466.9M357.5 414.2V468.7M358.5 420.5V464.7M359.5 424.5V461.3M360.5 422.7V468.5M361.5 434.2V477.0M362.5 423.5V463.1M363.5 422.7V465.4M364.5 423.3V466.4M365.5 420.4V465.4M366.5 431.3V451.5M367.5 409.1V458.5M368.5 419.8V457.4M369.5 420.0V451.0M370.5 412.8V443.6M371.5 411.2V452.3M372.5 414.0V449.4M373.5 426.7V450.4M374.5 418.4V444.5M375.5 428.3V454.2M376.5 425.8V450.6M377.5 423.5V451.6M378.5 422.1V460.5M379.5 423.1V444.8M380.5 428.2V457.1M381.5 429.1V455.3M382.5 415.3V456.5M383.5 428.7V455.0M384.5 420.9V456.4M385.5 419.0V451.5M386.5 430.9V452.6M387.5 435.3V451.4M388.5 421.4V452.2M389.5 428.0V451.9M390.5 421.7V450.7M391.5 424.0V456.6M392.5 424.4V458.5M393.5 420.9V458.4M394.5 415.3V451.1M395.5 424.3V441.7M396.5 418.5V458.3M397.5 420.6V456.0M398.5 421.4V460.5M399.5 428.1V449.8M400.5 419.0V459.1M401.5 422.9V463.7M402.5 408.1V450.5M403.5 417.3V458.5M404.5 416.3V468.8M405.5 413.4V466.4M406.5 411.2V467.9M407.5 415.1V469.2M408.5 413.4V473.1M409.5 422.5V474.9M410.5 415.3V473.7M411.5 415.3V469.2M412.5 415.4V469.1M413.5 414.0V477.5M414.5 411.2V477.6M415.5 425.3V469.4M416.5 419.8V481.1M417.5 430.2V470.6M418.5 425.6V465.7M419.5 441.2V455.0M420.5 431.6V464.7M421.5 421.8V455.5M422.5 419.4V456.5M423.5 414.3V458.9M424.5 420.7V460.9M425.5 417.8V443.4M426.5 392.6V482.1M427.5 406.5V458.0M428.5 407.0V450.9M429.5 412.7V457.3M430.5 414.6V456.4M431.5 418.4V456.9M432.5 374.1V458.6M433.5 425.6V460.6M434.5 428.8V466.6M435.5 430.6V463.3M436.5 440.0V472.9M437.5 429.7V457.1M438.5 428.4V463.7M439.5 432.6V461.1M440.5 426.6V456.8M441.5 417.3V451.9M442.5 425.7V453.6M443.5 412.8V444.2M444.5 412.7V441.5M445.5 413.2V454.3M446.5 400.9V452.1M447.5 409.9V450.5M448.5 412.4V457.2M449.5 415.8V461.9M450.5 417.3V462.0M451.5 423.2V464.7M452.5 421.0V457.9M453.5 421.4V456.5M454.5 408.9V442.3M455.5 400.9V450.6M456.5 425.8V449.2M456.5 434.3 L459.5 435.7M459.5 425.2V452.2M460.5 411.2V454.0M461.5 417.4V447.5M462.5 414.0V461.2M463.5 422.8V466.7M464.5 419.5V465.5M465.5 417.3V459.7M466.5 429.5V473.7M467.5 426.0V470.3M468.5 452.5V476.5M469.5 433.9V482.1M470.5 435.8V479.5M471.5 439.4V476.3M472.5 436.3V470.6M473.5 427.6V469.0M474.5 437.3V466.9M475.5 424.6V464.7M476.5 421.6V464.0M477.5 413.2V470.2M478.5 415.8V473.4M479.5 417.0V477.1M480.5 405.8V482.1M481.5 403.0V458.7M482.5 397.8V456.2M483.5 381.3V441.4M484.5 403.6V458.0M485.5 394.7V451.0M486.5 400.6V456.4M487.5 411.3V450.9M488.5 407.0V436.3M489.5 413.0V456.0M490.5 419.9V451.7M491.5 426.4V454.4M492.5 421.4V456.4M493.5 424.5V447.4M494.5 420.9V453.9M495.5 424.1V447.7M496.5 415.3V445.5M497.5 416.5V451.4M498.5 413.4V452.3M499.5 422.5V437.3M500.5 415.8V450.7M501.5 409.1V444.0M502.5 412.5V439.7M503.5 418.6V440.3M504.5 411.4V448.2M505.5 408.9V442.8M506.5 400.9V444.4M507.5 402.3V448.2M508.5 420.2V447.6M509.5 410.3V443.8M510.5 401.9V448.2M511.5 418.6V444.1M512.5 409.4V443.6M513.5 417.0V450.4M514.5 419.4V456.4M515.5 433.6V454.1M516.5 418.4V454.2M517.5 413.6V455.5M518.5 423.8V444.5M519.5 409.1V455.4M520.5 410.6V455.4M521.5 410.6V456.4M522.5 414.8V458.9M523.5 422.8V456.3M524.5 413.1V455.4M525.5 409.1V461.2M526.5 417.0V459.1M527.5 413.5V468.8M528.5 409.9V446.4M529.5 411.4V465.2M530.5 417.8V447.8M531.5 409.1V460.5M532.5 417.4V461.7M533.5 410.3V464.7M534.5 415.0V462.6M535.5 415.7V450.8M536.5 405.8V441.6M537.5 405.0V461.1M538.5 406.0V454.6M539.5 415.8V448.0M540.5 404.6V445.5M541.5 402.9V460.5M542.5 405.6V456.8M543.5 413.6V453.7M544.5 416.1V445.9M545.5 405.0V456.3M546.5 418.9V452.7M547.5 411.5V456.4M548.5 402.6V447.4M549.5 402.8V452.5M550.5 394.7V461.9M551.5 407.1V458.9M552.5 407.1V444.5M553.5 403.9V466.9M554.5 401.7V470.8M555.5 399.5V466.7M556.5 394.1V443.5M557.5 382.3V444.9M558.5 378.2V435.8M559.5 387.2V468.8M560.5 378.2V459.3M561.5 405.9V457.1M562.5 417.3V459.9M563.5 411.1V482.1M564.5 394.2V469.5M565.5 379.3V465.6M566.5 398.4V435.3M567.5 391.2V452.3M568.5 392.6V441.0M569.5 405.7V442.6M570.5 411.2V466.7M571.5 414.2V439.1M572.5 409.1V437.9M573.5 409.8V442.0M574.5 416.3V431.4M575.5 411.0V439.5M576.5 408.1V435.1M577.5 418.1V440.7M578.5 409.9V447.1M579.5 417.1V450.2M580.5 411.2V449.5M581.5 424.0V448.7M582.5 413.5V436.4M583.5 416.3V453.4M584.5 405.0V452.0M585.5 411.9V456.4M586.5 423.5V446.9M587.5 422.6V460.5M588.5 426.9V451.5M589.5 429.3V457.4M590.5 417.3V463.9M591.5 423.5V470.8M592.5 414.2V463.7M593.5 422.8V461.9M594.5 426.6V457.4M595.5 416.0V459.8M596.5 413.2V462.6M597.5 417.2V462.4M598.5 419.7V454.9M599.5 426.2V464.7M599.5 442.4 L604.5 451.6M604.5 444.6V465.3M605.5 432.8V472.9M606.5 427.6V471.3M607.5 420.4V473.2M608.5 423.3V477.6M609.5 440.2V481.1M610.5 442.8V475.1M611.5 431.7V467.3M611.5 450.4 L616.5 434.8M616.5 413.2V452.3M617.5 412.6V448.9M618.5 419.2V446.9M619.5 404.4V462.0M620.5 398.8V466.7M621.5 405.4V463.9M622.5 400.3V459.7M623.5 400.1V448.2M624.5 399.8V450.9M625.5 406.1V460.5M626.5 412.4V447.0M627.5 405.3V457.7M628.5 409.3V464.3M629.5 402.9V454.8M630.5 436.6V469.0M631.5 417.0V479.7M632.5 419.4V482.1M633.5 420.3V467.5M634.5 421.8V478.6M635.5 417.3V475.3M636.5 433.5V472.0M637.5 427.1V477.0M638.5 427.6V451.5M639.5 431.9V465.1M640.5 422.4V461.2M641.5 416.7V445.0M642.5 413.2V452.2M643.5 412.9V450.2M644.5 423.8V446.9M645.5 422.8V444.6M646.5 411.2V442.1M647.5 417.8V439.7M648.5 410.3V434.6M649.5 398.8V437.9M650.5 404.8V433.5M651.5 395.4V433.4M652.5 389.5V431.7M653.5 403.8V437.9M654.5 407.0V438.7M655.5 412.4V440.9M656.5 410.3V444.4M657.5 411.2V449.3M658.5 416.4V454.4M659.5 418.1V452.3M660.5 416.7V451.2M661.5 411.2V453.6M662.5 410.4V452.7M663.5 419.3V454.3M664.5 413.9V454.0M665.5 404.5V453.0M666.5 396.7V444.3M667.5 408.6V458.5M668.5 400.0V442.3M669.5 401.2V449.8M670.5 397.6V447.3M671.5 401.8V447.5M672.5 396.7V446.1M673.5 405.9V445.6M674.5 405.5V446.0M675.5 398.0V444.6M676.5 408.9V436.9M677.5 395.7V432.1M678.5 406.9V448.2M679.5 394.7V444.2M680.5 400.6V442.8M681.5 389.5V445.1M682.5 398.4V442.0M683.5 398.2V431.5M684.5 396.1V442.1M685.5 412.6V436.0M686.5 398.8V438.2M687.5 407.9V433.3M688.5 410.7V440.0M689.5 399.8V446.5M690.5 430.7V458.8M691.5 442.1V472.9" fill="none" stroke="#4c78a8" stroke-width="1.00" stroke-linejoin="round"/>
<path clip-path="url(#c3)" d="M127.5 554.8V592.7M128.5 553.3V590.1M129.5 551.8V591.7M130.5 546.9V589.7M131.5 554.7V591.2M132.5 553.5V594.1M133.5 544.6V589.2M134.5 553.4V589.0M135.5 555.6V590.8M136.5 553.2V590.8M137.5 552.7V587.2M138.5 555.8V589.6M139.5 550.9V589.5M140.5 556.7V588.5M141.5 556.1V589.6M142.5 555.9V589.1M143.5 547.9V589.0M144.5 545.3V589.6M145.5 547.3V588.2M146.5 547.3V591.6M147.5 553.1V588.4M148.5 552.9V587.7M149.5 553.9V587.7M150.5 551.7V590.1M151.5 547.4V592.5M152.5 557.1V591.0M153.5 554.7V592.2M154.5 547.2V594.1M155.5 549.2V591.8M156.5 553.5V589.5M157.5 552.7V591.7M158.5 554.9V592.0M159.5 549.9V588.9M160.5 553.1V590.3M161.5 551.1V590.9M162.5 555.4V586.6M163.5 551.8V588.0M164.5 554.0V585.7M165.5 551.3V586.6M166.5 549.9V587.4M167.5 554.7V586.3M168.5 553.2V586.0M169.5 550.5V588.1M170.5 548.0V589.7M171.5 550.1V585.9M172.5 553.7V586.3M173.5 556.0V585.7M174.5 555.9V587.5M175.5 551.0V588.1M176.5 555.0V590.0M177.5 549.3V588.6M178.5 549.6V591.3M179.5 552.6V588.1M180.5 550.7V589.5M181.5 549.9V591.6M182.5 551.3V591.2M183.5 554.0V590.9M184.5 555.9V589.2M185.5 554.7V589.0M186.5 550.4V588.9M187.5 548.4V587.4M188.5 555.2V591.3M189.5 554.9V590.1M190.5 548.0V587.8M191.5 549.8V594.1M192.5 557.6V590.7M193.5 557.7V588.0M194.5 552.8V588.2M195.5 555.3V588.1M196.5 555.5V588.1M197.5 555.0V587.3M198.5 557.7V586.8M199.5 557.5V589.3M200.5 555.3V587.4M201.5 555.3V589.1M202.5 553.4V588.4M203.5 551.1V587.7M204.5 554.6V589.1M205.5 550.9V585.9M206.5 547.7V590.0M207.5 556.4V588.4M208.5 554.3V588.0M209.5 549.7V589.2M210.5 555.6V588.4M211.5 552.7V588.7M212.5 553.5V591.8M213.5 544.9V587.0M214.5 555.0V589.9M215.5 554.1V587.9M216.5 548.6V589.1M217.5 550.6V591.7M218.5 552.8V591.1M219.5 550.2V590.2M220.5 552.2V592.0M221.5 555.2V590.9M222.5 555.7V588.5M223.5 554.7V587.9M224.5 550.3V587.9M225.5 552.8V588.0M226.5 549.2V589.5M227.5 554.5V590.1M228.5 554.2V592.2M229.5 552.2V590.6M230.5 553.4V587.3M231.5 554.3V589.8M232.5 550.1V587.2M233.5 552.2V588.2M234.5 554.4V591.3M235.5 552.6V589.8M236.5 555.4V589.4M237.5 556.1V589.0M238.5 555.2V591.6M239.5 556.1V592.1M240.5 555.7V589.3M241.5 556.6V587.2M242.5 555.1V592.5M243.5 557.1V587.2M244.5 555.1V594.8M245.5 553.5V588.8M246.5 553.0V589.8M247.5 548.9V591.1M248.5 554.0V590.6M249.5 555.9V592.1M250.5 551.8V597.0M251.5 555.1V594.8M252.5 549.2V589.3M253.5 552.7V588.2M254.5 553.8V593.4M255.5 554.6V590.3M256.5 550.6V590.6M257.5 555.7V594.7M258.5 555.5V590.7M259.5 556.2V589.4M260.5 547.5V587.8M261.5 550.6V589.6M262.5 546.9V588.9M263.5 551.8V587.6M264.5 551.0V588.7M265.5 554.6V588.7M266.5 547.4V594.4M267.5 554.0V591.0M268.5 552.5V593.2M269.5 548.9V591.2M270.5 552.0V590.8M271.5 554.1V591.8M272.5 555.5V594.3M273.5 554.1V589.1M274.5 554.3V589.0M275.5 551.5V589.7M276.5 546.5V593.4M277.5 551.7V595.6M278.5 555.4V588.3M279.5 549.2V586.8M280.5 548.9V590.6M281.5 547.6V587.1M282.5 552.1V588.3M283.5 549.3V589.2M284.5 548.6V586.5M285.5 552.7V589.6M286.5 554.7V587.7M287.5 552.2V593.2M288.5 546.5V588.0M289.5 552.5V593.5M290.5 548.1V587.7M291.5 553.3V590.8M292.5 552.0V589.5M293.5 553.6V590.9M294.5 551.9V587.8M295.5 549.8V589.6M296.5 552.2V590.2M297.5 554.6V588.9M298.5 555.3V588.2M299.5 552.6V594.8M300.5 552.8V590.4M301.5 555.8V588.4M302.5 557.5V590.5M303.5 554.9V588.5M304.5 558.2V589.8M305.5 552.8V587.6M306.5 555.9V589.3M307.5 555.1V591.6M308.5 553.7V587.9M309.5 553.4V588.7M310.5 550.4V596.1M311.5 546.2V591.1M312.5 552.9V588.1M313.5 555.9V588.5M314.5 557.4V591.1M315.5 554.4V589.4M316.5 555.8V594.7M317.5 545.5V589.1M318.5 556.0V595.4M319.5 556.7V589.9M320.5 554.6V591.1M321.5 548.3V593.5M322.5 556.4V592.9M323.5 550.9V592.6M324.5 549.8V591.4M325.5 555.0V589.6M326.5 556.5V594.7M327.5 548.7V589.6M328.5 547.9V592.3M329.5 549.7V590.6M330.5 551.7V587.4M331.5 555.7V589.9M332.5 548.8V587.3M333.5 553.4V589.2M334.5 557.5V592.3M335.5 553.4V589.9M336.5 552.0V589.5M337.5 552.5V590.1M338.5 555.3V595.7M339.5 554.1V591.0M340.5 550.9V592.4M341.5 551.9V590.8M342.5 555.2V590.1M343.5 555.3V593.5M344.5 553.1V588.8M345.5 552.5V593.2M346.5 543.7V592.9M347.5 554.0V595.5M348.5 548.1V590.9M349.5 551.3V589.8M350.5 536.6V587.9M351.5 547.8V591.7M352.5 546.9V592.4M353.5 551.7V589.9M354.5 545.0V590.1M355.5 548.2V592.9M356.5 554.1V589.9M357.5 544.2V593.1M358.5 549.6V589.3M359.5 553.4V588.6M360.5 546.9V589.2M361.5 553.5V587.7M362.5 552.0V588.6M363.5 552.5V588.8M364.5 553.5V590.2M365.5 548.5V593.1M366.5 554.7V593.1M367.5 554.4V591.5M368.5 555.9V592.0M369.5 552.0V588.2M370.5 554.8V590.3M371.5 553.0V592.7M372.5 552.3V589.0M373.5 551.4V588.1M374.5 551.0V588.6M375.5 549.3V588.5M376.5 550.2V591.2M377.5 552.1V589.7M378.5 548.2V587.5M379.5 547.8V587.2M380.5 549.1V592.1M381.5 552.1V591.5M382.5 551.0V588.7M383.5 548.4V592.8M384.5 553.0V596.0M385.5 554.3V589.8M386.5 556.0V591.2M387.5 554.7V589.9M388.5 554.5V589.2M389.5 551.2V591.8M390.5 558.0V600.0M391.5 552.3V589.8M392.5 556.0V592.1M393.5 553.6V590.8M394.5 546.3V594.8M395.5 555.1V593.1M396.5 553.4V591.4M397.5 544.7V595.1M398.5 551.9V592.7M399.5 549.4V591.2M400.5 551.7V591.0M401.5 552.2V594.7M402.5 553.1V590.9M403.5 550.3V593.5M404.5 550.3V590.8M405.5 550.5V592.2M406.5 546.5V590.3M407.5 554.7V591.1M408.5 551.0V591.0M409.5 554.4V592.3M410.5 552.3V588.1M411.5 556.4V592.3M412.5 552.0V588.7M413.5 552.0V589.7M414.5 553.1V587.7M415.5 553.2V591.1M416.5 552.4V589.2M417.5 552.1V596.7M418.5 556.0V594.0M419.5 553.5V589.6M420.5 553.5V593.7M421.5 554.5V593.9M422.5 549.0V594.9M423.5 550.8V588.9M424.5 552.2V590.0M425.5 543.5V588.3M426.5 551.2V589.4M427.5 547.0V589.2M428.5 549.0V590.0M429.5 553.5V589.6M430.5 554.1V592.0M431.5 554.4V589.7M432.5 544.8V589.3M433.5 549.1V592.1M434.5 550.1V591.2M435.5 554.9V589.8M436.5 554.2V591.6M437.5 554.1V594.3M438.5 550.7V590.7M439.5 554.3V593.0M440.5 550.0V590.3M441.5 554.4V589.7M442.5 553.8V589.2M443.5 546.4V591.2M444.5 550.8V590.5M445.5 552.7V595.0M446.5 551.4V597.0M447.5 551.6V591.8M448.5 551.4V593.8M449.5 552.2V594.9M450.5 548.0V589.1M451.5 548.9V595.4M452.5 555.7V597.4M453.5 556.6V591.0M454.5 547.7V592.0M455.5 552.7V589.7M456.5 554.4V593.8M456.5 572.1 L459.5 572.1M459.5 554.7V589.3M460.5 548.0V590.3M461.5 548.8V596.0M462.5 554.7V589.6M463.5 549.5V589.3M464.5 554.4V590.8M465.5 550.4V589.5M466.5 555.6V590.2M467.5 546.4V590.6M468.5 556.9V595.5M469.5 550.7V591.8M470.5 556.4V595.1M471.5 551.7V591.6M472.5 549.5V596.7M473.5 554.0V589.6M474.5 548.9V591.3M475.5 556.3V592.1M476.5 548.2V590.5M477.5 549.3V589.4M478.5 554.8V588.4M479.5 549.2V591.0M480.5 547.2V591.8M481.5 548.6V588.5M482.5 550.0V588.8M483.5 554.2V591.7M484.5 548.2V590.9M485.5 550.3V591.9M486.5 546.1V590.0M487.5 550.5V592.6M488.5 551.7V590.5M489.5 547.3V591.7M490.5 551.4V592.9M491.5 549.6V590.6M492.5 551.5V592.0M493.5 555.3V593.4M494.5 552.6V589.1M495.5 549.9V589.1M496.5 550.2V592.4M497.5 552.8V592.6M498.5 545.8V590.3M499.5 549.6V591.1M500.5 551.9V588.8M501.5 553.5V589.3M502.5 555.7V590.8M503.5 556.1V591.7M504.5 553.3V590.9M505.5 554.3V594.2M506.5 556.6V592.5M507.5 544.2V591.8M508.5 556.3V591.6M509.5 554.4V597.0M510.5 556.9V590.1M511.5 546.4V591.2M512.5 554.2V593.6M513.5 544.7V588.7M514.5 553.1V591.0M515.5 549.4V592.1M516.5 551.0V589.2M517.5 537.7V590.7M518.5 553.4V588.0M519.5 556.6V590.8M520.5 554.4V592.8M521.5 554.1V588.2M522.5 546.3V588.7M523.5 547.1V592.8M524.5 553.7V590.0M525.5 555.8V589.1M526.5 556.5V589.9M527.5 556.1V591.9M528.5 554.2V592.3M529.5 556.1V591.2M530.5 555.5V596.3M531.5 547.8V595.7M532.5 553.0V595.8M533.5 548.2V595.8M534.5 549.6V592.3M535.5 553.9V595.1M536.5 549.7V592.1M537.5 548.5V589.2M538.5 551.7V590.3M539.5 553.6V589.2M540.5 556.2V590.9M541.5 549.5V589.2M542.5 556.0V592.2M543.5 556.2V589.8M544.5 552.1V590.1M545.5 547.0V594.2M546.5 553.9V591.7M547.5 545.6V589.8M548.5 544.7V592.7M549.5 552.0V591.8M550.5 553.3V591.3M551.5 545.7V589.3M552.5 549.4V589.1M553.5 552.6V588.7M554.5 546.7V588.1M555.5 544.5V590.5M556.5 551.7V593.0M557.5 554.7V590.1M558.5 556.3V591.1M559.5 552.8V591.5M560.5 544.1V593.9M561.5 552.5V591.8M562.5 546.6V591.1M563.5 547.2V593.8M564.5 552.6V594.8M565.5 556.9V597.2M566.5 551.1V593.0M567.5 554.7V589.5M568.5 546.5V594.4M569.5 549.6V590.6M570.5 554.4V590.4M571.5 537.1V589.4M572.5 550.4V593.1M573.5 553.5V592.7M574.5 553.1V590.0M575.5 554.1V589.1M576.5 556.3V594.3M577.5 554.0V591.2M578.5 553.4V590.6M579.5 549.9V593.2M580.5 554.4V594.8M581.5 554.9V592.0M582.5 554.6V592.8M583.5 556.8V591.6M584.5 548.6V593.2M585.5 555.3V590.7M586.5 550.5V592.6M587.5 554.4V593.2M588.5 547.8V594.5M589.5 554.9V594.0M590.5 548.3V594.0M591.5 549.8V590.6M592.5 547.9V591.2M593.5 552.5V592.5M594.5 552.6V590.1M595.5 553.4V591.3M596.5 546.5V590.0M597.5 555.6V589.7M598.5 555.0V589.4M599.5 555.4V592.2M599.5 572.5 L604.5 572.5M604.5 555.4V592.8M605.5 551.4V591.3M606.5 556.2V596.2M607.5 546.9V589.2M608.5 553.6V589.4M609.5 551.9V590.8M610.5 555.1V592.2M611.5 548.3V591.2M611.5 572.5 L616.5 572.5M616.5 552.6V592.1M617.5 549.0V590.4M618.5 549.4V591.7M619.5 556.8V592.6M620.5 555.3V594.8M621.5 554.0V598.1M622.5 554.0V590.0M623.5 549.4V592.5M624.5 546.5V592.0M625.5 555.8V592.4M626.5 552.5V593.9M627.5 554.0V591.8M628.5 553.5V593.6M629.5 555.1V595.9M630.5 553.7V593.8M631.5 554.9V594.3M632.5 552.3V591.6M633.5 556.5V589.7M634.5 552.6V595.7M635.5 550.5V592.3M636.5 552.2V592.6M637.5 550.2V590.0M638.5 548.1V589.9M639.5 555.1V593.4M640.5 550.4V589.3M641.5 546.8V590.2M642.5 550.3V591.1M643.5 556.1V590.8M644.5 550.1V594.3M645.5 551.5V591.6M646.5 551.8V592.5M647.5 555.6V593.7M648.5 553.4V588.4M649.5 552.8V589.2M650.5 558.7V591.3M651.5 555.4V589.0M652.5 558.0V594.3M653.5 556.4V594.7M654.5 554.3V592.4M655.5 555.0V593.1M656.5 552.7V592.9M657.5 553.0V591.3M658.5 549.1V590.8M659.5 552.2V596.1M660.5 555.8V598.7M661.5 551.8V591.6M662.5 556.6V593.5M663.5 555.9V590.2M664.5 553.6V591.6M665.5 556.1V591.2M666.5 557.3V589.4M667.5 554.8V590.8M668.5 555.9V592.2M669.5 552.1V590.9M670.5 552.1V593.6M671.5 554.5V594.0M672.5 555.7V593.6M673.5 553.5V591.7M674.5 553.7V590.8M675.5 547.9V594.2M676.5 549.1V589.4M677.5 542.7V591.5M678.5 551.2V590.6M679.5 551.3V589.1M680.5 554.5V590.1M681.5 556.1V590.0M682.5 554.8V589.2M683.5 548.9V592.9M684.5 548.4V590.6M685.5 550.6V591.9M686.5 543.4V589.4M687.5 553.6V591.8M688.5 544.0V590.8M689.5 552.8V595.2M690.5 553.5V596.3M691.5 556.8V599.1" fill="none" stroke="#4c78a8" stroke-width="1.00" stroke-linejoin="round"/>
<path clip-path="url(#c4)" d="M127.5 656.6V733.1M128.5 651.9V720.9M129.5 654.3V723.7M130.5 658.4V719.9M131.5 661.7V722.3M132.5 662.1V727.0M133.5 658.2V726.5M134.5 655.9V721.1M135.5 656.3V723.8M136.5 659.5V727.0M137.5 655.5V722.5M138.5 660.7V727.7M139.5 660.8V720.5M140.5 660.1V723.5M141.5 659.3V730.6M142.5 656.7V724.7M143.5 660.4V723.5M144.5 654.3V728.6M145.5 655.6V722.3M146.5 645.9V723.3M147.5 661.1V725.1M148.5 657.3V727.0M149.5 661.5V736.1M150.5 658.1V725.1M151.5 662.6V730.7M152.5 658.7V725.9M153.5 664.6V729.0M154.5 663.9V723.0M155.5 654.9V726.5M156.5 658.3V723.6M157.5 660.2V725.1M158.5 659.4V723.7M159.5 658.5V726.4M160.5 659.1V723.1M161.5 663.0V727.4M162.5 655.0V734.9M163.5 657.8V730.5M164.5 652.0V732.1M165.5 661.7V726.3M166.5 651.4V722.1M167.5 662.0V725.8M168.5 656.1V724.1M169.5 654.2V735.6M170.5 656.9V724.3M171.5 662.6V728.4M172.5 655.0V725.7M173.5 661.8V725.6M174.5 654.3V729.0M175.5 659.3V726.6M176.5 654.9V728.9M177.5 663.3V737.6M178.5 647.2V731.8M179.5 660.3V734.0M180.5 659.6V728.9M181.5 657.0V743.9M182.5 657.1V723.6M183.5 658.7V725.4M184.5 657.9V722.4M185.5 660.4V725.5M186.5 657.6V722.3M187.5 648.9V726.5M188.5 655.0V722.7M189.5 655.4V722.9M190.5 652.9V731.7M191.5 648.9V723.3M192.5 653.3V730.1M193.5 656.3V726.1M194.5 652.8V739.0M195.5 647.3V740.1M196.5 652.3V744.0M197.5 646.0V723.9M198.5 641.6V722.5M199.5 655.7V726.7M200.5 650.6V726.2M201.5 652.5V727.0M202.5 654.5V726.8M203.5 650.0V728.9M204.5 652.8V727.8M205.5 656.0V737.7M206.5 649.1V734.7M207.5 650.6V730.6M208.5 650.0V730.5M209.5 658.4V731.0M210.5 650.6V724.5M211.5 655.1V733.0M212.5 654.2V727.5M213.5 659.5V731.8M214.5 654.7V732.4M215.5 654.9V728.7M216.5 658.2V721.0M217.5 658.2V720.7M218.5 651.0V724.7M219.5 651.9V725.0M220.5 658.0V728.6M221.5 646.4V735.6M222.5 649.2V744.6M223.5 655.5V734.5M224.5 649.2V735.1M225.5 653.3V734.1M226.5 643.8V732.4M227.5 653.0V736.6M228.5 654.8V738.3M229.5 657.3V742.1M230.5 649.6V728.6M231.5 649.4V728.3M232.5 655.7V727.1M233.5 658.9V733.8M234.5 654.0V725.1M235.5 649.0V730.3M236.5 652.5V727.5M237.5 655.5V729.4M238.5 659.5V737.7M239.5 651.9V726.2M240.5 653.8V728.0M241.5 646.9V729.2M242.5 654.6V729.8M243.5 659.3V744.6M244.5 650.5V735.3M245.5 652.6V729.8M246.5 653.0V730.5M247.5 648.6V727.9M248.5 654.4V732.3M249.5 651.3V734.5M250.5 664.6V731.3M251.5 664.7V736.1M252.5 661.2V730.0M253.5 654.8V735.4M254.5 658.5V727.3M255.5 659.3V725.2M256.5 656.1V741.7M257.5 656.4V726.3M258.5 654.1V730.0M259.5 648.2V729.4M260.5 649.6V740.1M261.5 651.1V737.8M262.5 643.0V731.3M263.5 654.5V734.1M264.5 657.9V734.0M265.5 655.3V731.7M266.5 651.2V725.4M267.5 645.3V726.6M268.5 655.4V727.1M269.5 663.0V731.9M270.5 664.1V728.9M271.5 652.7V731.4M272.5 662.4V728.0M273.5 645.7V733.9M274.5 657.3V730.6M275.5 652.5V730.5M276.5 650.7V736.7M277.5 649.4V728.8M278.5 655.5V727.8M279.5 655.5V726.1M280.5 652.7V736.5M281.5 654.5V726.9M282.5 651.7V729.2M283.5 656.1V729.5M284.5 655.9V724.3M285.5 652.6V727.0M286.5 652.1V730.0M287.5 652.6V730.5M288.5 650.7V726.3M289.5 660.6V732.8M290.5 662.0V732.4M291.5 659.2V734.4M292.5 660.6V733.0M293.5 652.5V731.8M294.5 660.0V732.0M295.5 660.3V729.8M296.5 654.7V728.8M297.5 657.5V734.6M298.5 654.0V740.5M299.5 662.9V727.3M300.5 655.2V726.8M301.5 660.6V722.8M302.5 661.8V726.5M303.5 658.2V728.6M304.5 654.5V739.9M305.5 654.1V731.4M306.5 660.4V737.9M307.5 659.1V725.6M308.5 649.4V724.8M309.5 662.6V724.3M310.5 660.4V729.6M311.5 650.9V730.0M312.5 659.3V725.6M313.5 661.3V728.7M314.5 660.0V722.1M315.5 657.4V731.0M316.5 657.8V725.0M317.5 656.1V724.0M318.5 654.5V722.3M319.5 652.2V726.5M320.5 659.9V731.7M321.5 650.5V729.4M322.5 647.4V727.4M323.5 655.7V733.6M324.5 657.8V729.1M325.5 655.5V724.3M326.5 655.9V731.7M327.5 651.9V723.4M328.5 656.4V728.3M329.5 648.1V730.0M330.5 655.1V726.3M331.5 652.0V721.0M332.5 644.6V722.1M333.5 656.1V721.1M334.5 650.5V730.6M335.5 653.0V725.1M336.5 656.3V722.7M337.5 656.1V727.5M338.5 654.1V723.3M339.5 646.0V724.5M340.5 654.3V735.6M341.5 657.7V733.0M342.5 657.7V728.3M343.5 652.5V727.1M344.5 659.0V721.7M345.5 646.1V720.4M346.5 656.0V728.1M347.5 654.7V720.0M348.5 650.9V723.7M349.5 650.0V726.9M350.5 648.2V726.5M351.5 657.8V728.7M352.5 643.0V732.7M353.5 645.3V732.8M354.5 656.1V722.7M355.5 657.2V728.5M356.5 659.8V722.0M357.5 657.8V724.9M358.5 654.3V729.7M359.5 651.9V721.9M360.5 651.3V726.4M361.5 656.6V724.5M362.5 658.2V729.9M363.5 658.3V722.7M364.5 660.2V731.3M365.5 659.1V723.6M366.5 658.7V726.5M367.5 652.1V726.1M368.5 645.3V730.6M369.5 644.3V723.2M370.5 653.5V725.6M371.5 655.3V731.0M372.5 657.5V723.0M373.5 651.9V726.0M374.5 651.9V721.0M375.5 661.9V725.9M376.5 659.4V728.2M377.5 654.3V726.1M378.5 655.1V727.0M379.5 652.9V723.4M380.5 657.2V730.4M381.5 655.0V726.4M382.5 650.1V726.2M383.5 649.1V722.7M384.5 645.0V722.0M385.5 647.0V721.1M386.5 659.4V721.1M387.5 654.1V721.5M388.5 658.5V734.1M389.5 652.6V726.8M390.5 649.9V721.1M391.5 647.7V722.8M392.5 659.2V721.5M393.5 654.3V721.3M394.5 660.8V731.5M395.5 659.6V722.5M396.5 662.4V723.8M397.5 660.9V720.1M398.5 651.5V721.2M399.5 658.0V733.6M400.5 661.3V730.6M401.5 662.2V724.9M402.5 653.1V728.9M403.5 654.0V726.1M404.5 660.2V727.9M405.5 661.4V720.9M406.5 661.2V723.3M407.5 658.2V725.4M408.5 653.0V728.3M409.5 647.0V724.6M410.5 656.4V722.3M411.5 647.5V721.8M412.5 654.7V725.0M413.5 651.4V725.2M414.5 664.0V725.0M415.5 665.0V720.6M416.5 661.4V722.7M417.5 655.8V722.4M418.5 659.1V724.0M419.5 659.3V731.5M420.5 652.7V727.0M421.5 653.8V725.2M422.5 654.5V733.1M423.5 660.2V726.4M424.5 660.0V720.3M425.5 656.2V720.2M426.5 658.3V721.1M427.5 657.1V732.9M428.5 652.1V723.2M429.5 658.5V725.9M430.5 657.2V746.1M431.5 661.2V724.0M432.5 660.1V724.1M433.5 661.4V725.2M434.5 660.0V723.3M435.5 663.0V728.3M436.5 661.8V728.5M437.5 658.8V730.7M438.5 656.7V732.7M439.5 655.2V724.0M440.5 657.3V728.5M441.5 662.1V724.7M442.5 652.4V725.8M443.5 662.6V725.3M444.5 662.2V725.9M445.5 663.2V732.0M446.5 660.9V728.6M447.5 657.8V722.0M448.5 654.1V723.3M449.5 641.4V727.7M450.5 653.7V725.9M451.5 643.4V724.8M452.5 656.3V721.5M453.5 657.5V726.9M454.5 656.8V726.6M455.5 654.9V727.0M456.5 659.6V731.1M456.5 691.5 L459.5 689.9M459.5 649.0V727.1M460.5 650.2V728.1M461.5 653.0V728.5M462.5 654.7V733.2M463.5 658.1V728.1M464.5 650.7V724.2M465.5 650.0V727.4M466.5 654.1V727.2M467.5 643.2V739.3M468.5 652.1V725.2M469.5 649.5V734.0M470.5 649.8V730.4M471.5 650.9V719.9M472.5 652.9V724.2M473.5 658.3V722.8M474.5 657.6V725.2M475.5 659.2V727.4M476.5 658.8V725.3M477.5 654.7V723.7M478.5 655.1V731.0M479.5 655.8V723.5M480.5 659.6V720.9M481.5 660.1V723.4M482.5 655.8V730.2M483.5 660.7V732.0M484.5 654.8V722.8M485.5 652.7V723.0M486.5 653.9V724.3M487.5 655.7V725.6M488.5 659.3V729.2M489.5 650.4V728.9M490.5 660.5V726.8M491.5 656.0V722.1M492.5 656.3V723.5M493.5 660.8V724.8M494.5 660.7V728.4M495.5 650.6V732.6M496.5 654.9V720.9M497.5 651.1V726.8M498.5 659.5V726.6M499.5 647.4V724.3M500.5 654.6V729.7M501.5 658.0V722.9M502.5 655.5V731.6M503.5 653.0V731.3M504.5 660.3V727.5M505.5 659.6V725.3M506.5 662.8V730.8M507.5 660.5V725.8M508.5 655.8V728.6M509.5 654.3V727.6M510.5 663.6V731.1M511.5 660.7V725.1M512.5 654.2V727.0M513.5 654.8V724.8M514.5 658.2V725.4M515.5 651.4V730.8M516.5 650.7V730.2M517.5 656.0V726.3M518.5 660.4V729.9M519.5 662.3V730.9M520.5 652.1V723.2M521.5 659.4V728.2M522.5 654.1V732.4M523.5 650.6V723.9M524.5 657.9V735.2M525.5 656.7V724.2M526.5 656.4V727.2M527.5 652.2V729.9M528.5 662.0V734.1M529.5 662.6V723.8M530.5 660.4V729.4M531.5 652.0V725.8M532.5 650.2V734.3M533.5 646.0V731.9M534.5 659.0V739.1M535.5 659.2V729.0M536.5 659.5V732.5M537.5 659.2V723.0M538.5 660.5V723.8M539.5 656.6V729.7M540.5 658.7V724.5M541.5 661.0V726.5M542.5 652.0V731.9M543.5 647.3V728.8M544.5 652.0V738.6M545.5 655.5V732.5M546.5 655.9V727.3M547.5 640.6V726.3M548.5 655.8V731.2M549.5 649.5V733.7M550.5 654.1V734.4M551.5 645.2V731.5M552.5 653.2V732.3M553.5 651.5V736.7M554.5 642.1V728.0M555.5 658.6V739.5M556.5 654.0V722.0M557.5 654.8V726.0M558.5 650.3V728.4M559.5 655.5V729.3M560.5 655.1V728.4M561.5 645.1V728.7M562.5 637.8V728.5M563.5 636.3V720.6M564.5 649.0V730.2M565.5 649.0V723.1M566.5 647.3V729.3M567.5 650.3V717.6M568.5 650.8V732.4M569.5 655.0V722.1M570.5 645.1V729.7M571.5 658.3V720.8M572.5 659.4V723.5M573.5 656.6V721.8M574.5 659.0V717.7M575.5 647.1V724.0M576.5 660.1V728.4M577.5 653.1V727.1M578.5 657.4V726.5M579.5 659.4V730.5M580.5 662.9V720.5M581.5 662.3V720.4M582.5 658.4V719.9M583.5 653.7V720.1M584.5 653.3V721.2M585.5 660.8V724.9M586.5 652.0V727.1M587.5 654.8V729.1M588.5 663.7V725.2M589.5 658.8V724.6M590.5 665.5V721.4M591.5 661.6V720.3M592.5 656.0V719.0M593.5 661.0V723.1M594.5 647.5V724.7M595.5 655.7V720.2M596.5 659.9V722.7M597.5 659.6V719.7M598.5 660.2V730.5M599.5 658.1V728.4M599.5 692.1 L604.5 690.1M604.5 661.1V724.6M605.5 651.9V735.3M606.5 653.0V722.2M607.5 658.3V722.7M608.5 662.8V729.2M609.5 661.9V722.8M610.5 659.5V726.4M611.5 660.2V720.4M611.5 690.1 L616.5 690.8M616.5 654.1V727.9M617.5 650.7V732.9M618.5 657.9V732.5M619.5 650.8V723.9M620.5 659.1V721.3M621.5 652.8V717.2M622.5 659.1V716.6M623.5 657.3V719.3M624.5 653.9V722.9M625.5 658.6V721.4M626.5 658.7V720.2M627.5 656.6V727.6M628.5 657.3V724.7M629.5 656.8V736.1M630.5 656.0V727.7M631.5 659.7V728.0M632.5 658.5V730.5M633.5 650.5V727.3M634.5 653.3V723.4M635.5 659.8V727.7M636.5 642.3V727.0M637.5 660.0V730.9M638.5 658.2V724.3M639.5 657.8V730.3M640.5 660.1V731.6M641.5 659.6V731.3M642.5 658.6V719.6M643.5 650.4V720.8M644.5 650.6V725.2M645.5 652.3V730.2M646.5 654.5V723.8M647.5 658.9V725.1M648.5 657.6V726.4M649.5 646.4V724.4M650.5 651.1V731.7M651.5 652.1V725.4M652.5 652.2V723.2M653.5 657.3V728.2M654.5 659.9V727.7M655.5 654.1V722.9M656.5 647.9V733.4M657.5 657.9V723.2M658.5 654.9V735.0M659.5 654.3V729.0M660.5 658.7V727.6M661.5 657.4V732.2M662.5 653.8V726.6M663.5 654.2V722.4M664.5 649.4V726.4M665.5 659.7V726.3M666.5 653.6V722.5M667.5 653.8V723.8M668.5 660.2V721.4M669.5 657.2V721.3M670.5 663.2V720.6M671.5 647.1V721.8M672.5 649.7V731.5M673.5 652.5V725.2M674.5 660.6V724.7M675.5 653.5V728.9M676.5 653.7V728.0M677.5 657.9V727.9M678.5 651.1V724.4M679.5 657.2V723.7M680.5 657.1V722.9M681.5 652.0V722.8M682.5 645.5V725.3M683.5 650.5V724.0M684.5 649.6V722.0M685.5 659.5V733.3M686.5 656.9V728.2M687.5 654.6V729.9M688.5 655.9V723.8M689.5 656.4V725.2M690.5 656.6V720.9M691.5 649.2V720.6" fill="none" stroke="#4c78a8" stroke-width="1.00" stroke-linejoin="round"/>
<path clip-path="url(#c5)" d="M127.5 788.2V824.3M128.5 787.0V831.4M129.5 789.8V827.3M130.5 792.0V825.0M131.5 785.1V825.3M132.5 779.6V830.7M133.5 791.2V827.5M134.5 783.4V824.5M135.5 790.7V829.5M136.5 786.2V826.8M137.5 785.8V824.7M138.5 787.4V826.9M139.5 781.9V824.9M140.5 789.7V830.0M141.5 790.8V833.4M142.5 788.0V836.0M143.5 792.1V828.4M144.5 792.2V828.1M145.5 791.9V828.3M146.5 784.5V830.2M147.5 790.8V827.4M148.5 788.7V824.5M149.5 784.6V825.6M150.5 789.2V827.1M151.5 786.3V826.7M152.5 787.4V826.7M153.5 789.9V828.5M154.5 789.4V830.2M155.5 784.8V827.1M156.5 785.0V825.9M157.5 785.7V825.0M158.5 784.0V825.1M159.5 783.0V829.9M160.5 783.6V822.2M161.5 784.9V826.8M162.5 787.8V822.5M163.5 783.7V825.8M164.5 778.8V824.2M165.5 781.7V822.0M166.5 777.3V823.7M167.5 785.1V821.5M168.5 784.0V827.4M169.5 786.4V827.9M170.5 781.2V826.8M171.5 784.2V829.6M172.5 786.8V832.4M173.5 784.8V821.3M174.5 777.4V822.9M175.5 778.8V822.0M176.5 787.1V827.1M177.5 778.0V823.3M178.5 773.5V829.4M179.5 787.8V833.6M180.5 787.9V822.8M181.5 788.2V824.5M182.5 786.3V827.1M183.5 785.7V824.2M184.5 784.9V822.3M185.5 786.1V824.6M186.5 780.8V829.2M187.5 777.8V826.8M188.5 788.2V827.6M189.5 788.4V826.8M190.5 785.1V823.8M191.5 787.8V828.0M192.5 789.6V825.2M193.5 790.3V824.0M194.5 783.3V832.4M195.5 788.5V834.9M196.5 788.5V825.8M197.5 787.0V829.2M198.5 789.1V828.5M199.5 790.5V825.3M200.5 792.9V834.2M201.5 791.0V830.8M202.5 785.8V833.2M203.5 790.1V830.3M204.5 791.7V826.5M205.5 792.1V830.1M206.5 792.6V828.1M207.5 789.8V830.7M208.5 791.8V838.8M209.5 790.1V840.0M210.5 778.5V832.3M211.5 790.7V834.2M212.5 789.7V827.0M213.5 789.7V828.9M214.5 790.8V831.4M215.5 790.0V830.9M216.5 786.7V829.7M217.5 790.6V831.9M218.5 789.2V831.8M219.5 790.3V831.3M220.5 781.6V825.4M221.5 785.1V828.6M222.5 788.9V826.6M223.5 787.7V825.3M224.5 785.8V830.4M225.5 780.0V825.4M226.5 778.0V827.0M227.5 786.5V829.3M228.5 783.9V825.9M229.5 777.8V826.7M230.5 781.4V832.4M231.5 784.5V822.7M232.5 785.5V823.6M233.5 786.0V820.5M234.5 782.1V820.8M235.5 782.8V819.9M236.5 782.1V824.5M237.5 784.8V822.0M238.5 783.3V822.0M239.5 783.0V820.6M240.5 784.3V819.6M241.5 781.8V817.5M242.5 786.6V822.7M243.5 785.7V820.0M244.5 780.7V825.7M245.5 785.8V823.3M246.5 785.7V823.3M247.5 782.1V821.6M248.5 779.2V827.3M249.5 785.2V820.5M250.5 782.9V819.5M251.5 786.9V820.3M252.5 785.5V824.6M253.5 787.5V820.8M254.5 788.7V823.0M255.5 783.8V828.3M256.5 788.1V824.0M257.5 785.5V824.2M258.5 789.6V823.8M259.5 784.3V830.6M260.5 787.3V821.7M261.5 785.9V827.0M262.5 789.2V826.6M263.5 783.5V824.4M264.5 783.6V822.2M265.5 791.2V823.8M266.5 786.4V823.2M267.5 791.2V822.7M268.5 791.0V826.1M269.5 791.6V826.7M270.5 791.5V825.0M271.5 787.2V827.4M272.5 792.1V825.5M273.5 787.1V826.9M274.5 784.9V833.1M275.5 790.8V826.3M276.5 792.8V827.4M277.5 786.0V830.3M278.5 790.1V825.3M279.5 790.2V831.7M280.5 783.6V833.7M281.5 791.3V827.4M282.5 791.6V831.3M283.5 782.5V828.2M284.5 789.7V829.4M285.5 788.4V828.3M286.5 791.1V832.9M287.5 787.4V826.8M288.5 788.0V834.5M289.5 783.8V829.5M290.5 788.0V827.4M291.5 785.6V828.1M292.5 789.6V831.7M293.5 791.1V826.4M294.5 783.9V825.9M295.5 791.4V824.0M296.5 790.5V832.8M297.5 788.4V826.2M298.5 791.2V824.8M299.5 782.1V824.8M300.5 787.8V827.2M301.5 788.6V824.1M302.5 788.6V828.0M303.5 790.4V825.2M304.5 781.3V824.7M305.5 785.9V825.1M306.5 782.3V831.0M307.5 778.6V832.4M308.5 788.7V823.2M309.5 782.8V823.1M310.5 788.1V823.9M311.5 788.0V825.6M312.5 785.2V828.8M313.5 787.3V825.6M314.5 786.8V822.5M315.5 780.4V822.7M316.5 785.7V822.3M317.5 780.3V828.7M318.5 781.5V822.3M319.5 783.1V831.7M320.5 780.8V831.1M321.5 783.6V824.4M322.5 788.3V829.0M323.5 788.1V829.6M324.5 788.4V824.4M325.5 787.4V834.7M326.5 790.3V825.2M327.5 788.8V828.1M328.5 789.1V838.8M329.5 786.3V834.2M330.5 785.3V832.6M331.5 789.7V829.0M332.5 789.7V832.4M333.5 787.0V829.4M334.5 791.0V829.2M335.5 789.7V831.8M336.5 781.5V831.0M337.5 790.1V826.6M338.5 787.6V837.8M339.5 785.6V832.4M340.5 788.7V828.9M341.5 791.5V827.5M342.5 784.7V834.8M343.5 790.3V826.4M344.5 789.8V836.4M345.5 789.2V833.0M346.5 788.5V831.6M347.5 786.1V829.1M348.5 785.9V827.1M349.5 789.0V827.5M350.5 790.9V828.1M351.5 785.7V829.8M352.5 791.6V830.2M353.5 791.2V826.0M354.5 791.6V830.2M355.5 785.8V831.0M356.5 791.2V825.7M357.5 783.1V830.1M358.5 786.4V827.5M359.5 775.4V836.4M360.5 787.0V827.0M361.5 782.3V825.6M362.5 787.3V828.0M363.5 789.9V823.2M364.5 786.3V826.5M365.5 785.9V827.3M366.5 788.3V824.7M367.5 783.6V832.9M368.5 787.3V825.6M369.5 784.7V823.0M370.5 780.7V823.7M371.5 786.2V827.5M372.5 784.7V830.2M373.5 786.1V822.3M374.5 781.0V821.9M375.5 787.9V825.2M376.5 784.2V824.3M377.5 780.5V821.9M378.5 783.6V826.6M379.5 783.7V826.4M380.5 785.4V822.2M381.5 779.0V826.4M382.5 784.6V820.7M383.5 787.4V823.4M384.5 779.6V829.9M385.5 783.8V820.3M386.5 785.7V822.8M387.5 785.0V825.4M388.5 785.5V823.0M389.5 786.8V821.4M390.5 785.3V831.0M391.5 783.7V830.0M392.5 781.0V826.5M393.5 789.5V824.6M394.5 786.5V824.9M395.5 779.8V826.9M396.5 783.1V824.3M397.5 785.9V831.9M398.5 787.0V824.4M399.5 787.0V830.9M400.5 788.2V824.8M401.5 783.8V825.5M402.5 790.3V824.2M403.5 790.3V823.8M404.5 790.4V833.4M405.5 782.9V824.8M406.5 789.1V826.2M407.5 790.8V826.4M408.5 784.2V826.9M409.5 782.3V826.4M410.5 784.0V827.6M411.5 780.1V832.6M412.5 780.5V825.3M413.5 781.6V830.2M414.5 780.3V827.2M415.5 786.5V826.2M416.5 782.8V830.3M417.5 785.2V825.0M418.5 789.7V834.2M419.5 785.7V832.9M420.5 791.0V824.9M421.5 787.0V827.2M422.5 790.9V825.9M423.5 787.4V827.2M424.5 780.2V827.3M425.5 789.9V833.9M426.5 788.3V827.0M427.5 782.0V828.0M428.5 782.5V826.4M429.5 791.0V827.7M430.5 787.2V825.9M431.5 790.8V834.0M432.5 788.8V827.2M433.5 790.2V825.4M434.5 788.9V826.5M435.5 788.0V828.4M436.5 788.0V829.0M437.5 789.1V830.7M438.5 788.7V826.5M439.5 786.6V829.4M440.5 787.9V825.9M441.5 779.0V825.8M442.5 789.8V837.4M443.5 786.6V827.0M444.5 784.2V829.1M445.5 790.8V826.1M446.5 791.7V827.6M447.5 788.2V828.4M448.5 784.9V824.0M449.5 791.8V831.6M450.5 789.5V832.2M451.5 786.9V824.5M452.5 784.1V824.7M453.5 789.6V831.8M454.5 788.7V824.5M455.5 792.0V826.0M456.5 791.2V826.8M456.5 808.4 L459.5 808.6M459.5 789.8V825.7M460.5 784.9V827.7M461.5 792.4V830.2M462.5 781.4V835.3M463.5 787.7V833.0M464.5 783.3V826.5M465.5 785.8V830.2M466.5 790.7V831.5M467.5 790.2V834.8M468.5 789.7V828.9M469.5 788.4V826.0M470.5 782.8V827.6M471.5 792.1V826.5M472.5 786.9V826.4M473.5 790.3V827.8M474.5 785.0V826.5M475.5 782.7V827.2M476.5 781.1V826.4M477.5 789.9V829.0M478.5 783.3V833.2M479.5 791.4V833.8M480.5 790.8V826.9M481.5 792.8V831.2M482.5 785.2V827.9M483.5 785.8V828.4M484.5 790.0V829.7M485.5 786.3V827.0M486.5 782.8V825.0M487.5 789.9V831.7M488.5 789.4V827.4M489.5 790.9V827.7M490.5 787.2V824.7M491.5 784.0V827.5M492.5 790.5V825.2M493.5 788.4V827.0M494.5 784.9V824.9M495.5 784.4V823.7M496.5 789.7V824.3M497.5 782.7V830.3M498.5 785.1V825.0M499.5 787.1V822.8M500.5 787.7V826.9M501.5 781.9V824.0M502.5 789.0V823.4M503.5 786.4V823.7M504.5 783.4V831.6M505.5 784.1V829.6M506.5 778.8V826.9M507.5 780.7V825.9M508.5 785.3V837.0M509.5 784.9V824.5M510.5 780.8V828.7M511.5 786.3V824.3M512.5 785.7V826.2M513.5 785.6V823.0M514.5 784.2V825.8M515.5 780.5V823.5M516.5 785.9V829.6M517.5 787.7V832.0M518.5 786.1V827.4M519.5 785.6V823.4M520.5 786.4V829.2M521.5 785.1V830.9M522.5 783.8V823.3M523.5 788.1V831.8M524.5 788.3V830.9M525.5 787.2V823.7M526.5 786.7V829.8M527.5 788.5V829.8M528.5 786.7V830.0M529.5 784.6V830.5M530.5 786.7V826.2M531.5 780.9V825.2M532.5 786.0V830.7M533.5 787.5V832.1M534.5 785.3V834.0M535.5 785.2V828.7M536.5 785.7V825.6M537.5 784.1V828.7M538.5 784.6V828.3M539.5 787.7V829.0M540.5 789.4V832.6M541.5 785.9V826.5M542.5 788.2V834.1M543.5 788.9V827.4M544.5 784.6V828.5M545.5 781.9V830.3M546.5 791.1V837.9M547.5 779.8V827.4M548.5 791.0V834.4M549.5 790.6V828.7M550.5 789.2V828.4M551.5 787.3V827.4M552.5 791.8V831.5M553.5 791.1V828.0M554.5 786.5V831.4M555.5 791.9V829.2M556.5 790.6V828.6M557.5 788.1V836.0M558.5 789.6V828.9M559.5 792.1V828.9M560.5 793.8V833.2M561.5 785.6V833.3M562.5 791.0V832.7M563.5 791.0V829.4M564.5 785.0V827.5M565.5 792.3V828.3M566.5 794.7V828.4M567.5 793.3V827.3M568.5 790.3V829.2M569.5 789.8V828.2M570.5 791.3V826.7M571.5 790.0V828.7M572.5 789.6V828.2M573.5 786.4V823.1M574.5 787.7V822.5M575.5 782.6V823.5M576.5 780.3V826.5M577.5 786.4V823.3M578.5 782.5V825.1M579.5 785.8V823.6M580.5 780.3V825.1M581.5 780.9V823.3M582.5 782.8V825.2M583.5 785.9V824.3M584.5 787.1V821.6M585.5 786.2V825.0M586.5 782.4V824.1M587.5 779.7V824.3M588.5 781.7V824.2M589.5 787.5V821.4M590.5 787.1V822.0M591.5 787.8V823.9M592.5 787.9V822.2M593.5 786.5V821.5M594.5 775.0V823.1M595.5 782.9V826.5M596.5 787.1V825.3M597.5 784.2V821.3M598.5 781.4V822.6M599.5 781.2V821.6M599.5 805.2 L604.5 808.0M604.5 786.2V831.1M605.5 784.0V830.6M606.5 788.5V826.6M607.5 786.1V825.6M608.5 785.4V829.4M609.5 792.1V826.2M610.5 784.0V825.6M611.5 779.3V826.6M611.5 808.6 L616.5 809.9M616.5 790.5V826.4M617.5 788.7V834.5M618.5 791.4V828.4M619.5 786.2V832.7M620.5 787.5V832.2M621.5 784.6V830.5M622.5 787.3V830.3M623.5 790.9V829.7M624.5 790.1V828.0M625.5 791.2V832.7M626.5 789.7V826.7M627.5 784.2V831.1M628.5 784.5V827.9M629.5 782.4V830.7M630.5 784.6V827.7M631.5 784.6V826.4M632.5 788.2V831.1M633.5 790.8V835.0M634.5 790.1V831.6M635.5 788.5V827.1M636.5 779.1V826.9M637.5 785.8V833.3M638.5 786.6V831.0M639.5 788.2V831.9M640.5 788.3V827.7M641.5 781.5V829.0M642.5 787.6V829.5M643.5 781.9V826.7M644.5 790.0V827.2M645.5 785.7V826.6M646.5 785.7V827.6M647.5 790.6V826.5M648.5 789.1V831.7M649.5 783.1V825.0M650.5 786.4V833.8M651.5 789.5V828.8M652.5 779.9V829.9M653.5 788.8V826.7M654.5 789.2V828.2M655.5 788.3V830.5M656.5 786.1V825.7M657.5 787.6V833.8M658.5 784.3V830.1M659.5 789.1V827.7M660.5 787.0V826.5M661.5 788.5V829.5M662.5 784.7V828.0M663.5 790.3V823.7M664.5 790.9V825.6M665.5 789.8V826.0M666.5 790.1V831.6M667.5 786.1V823.6M668.5 790.6V824.8M669.5 787.8V827.9M670.5 787.5V825.1M671.5 780.8V829.0M672.5 784.1V825.6M673.5 784.2V825.4M674.5 783.9V826.0M675.5 789.1V828.0M676.5 785.8V829.2M677.5 787.1V824.9M678.5 788.7V830.2M679.5 785.2V827.5M680.5 787.6V833.7M681.5 784.3V836.1M682.5 786.6V831.7M683.5 782.5V825.6M684.5 789.1V833.0M685.5 786.2V825.6M686.5 790.6V831.3M687.5 784.4V825.9M688.5 788.2V831.2M689.5 789.3V827.0M690.5 787.2V837.4M691.5 790.7V828.7" fill="none" stroke="#4c78a8" stroke-width="1.00" stroke-linejoin="round"/>
<g stroke="#000" stroke-width="1.10" fill="none"><rect x="99.50" y="109.50" width="620.00" height="110.00" fill="none" stroke="#000" stroke-width="1.10"/><line x1="105.50" y1="219.50" x2="105.50" y2="227.30"/><line x1="183.50" y1="219.50" x2="183.50" y2="227.30"/><line x1="261.50" y1="219.50" x2="261.50" y2="227.30"/><line x1="338.50" y1="219.50" x2="338.50" y2="227.30"/><line x1="416.50" y1="219.50" x2="416.50" y2="227.30"/><line x1="494.50" y1="219.50" x2="494.50" y2="227.30"/><line x1="572.50" y1="219.50" x2="572.50" y2="227.30"/><line x1="649.50" y1="219.50" x2="649.50" y2="227.30"/><rect x="99.50" y="241.50" width="620.00" height="110.00" fill="none" stroke="#000" stroke-width="1.10"/><line x1="105.50" y1="351.50" x2="105.50" y2="359.30"/><line x1="183.50" y1="351.50" x2="183.50" y2="359.30"/><line x1="261.50" y1="351.50" x2="261.50" y2="359.30"/><line x1="338.50" y1="351.50" x2="338.50" y2="359.30"/><line x1="416.50" y1="351.50" x2="416.50" y2="359.30"/><line x1="494.50" y1="351.50" x2="494.50" y2="359.30"/><line x1="572.50" y1="351.50" x2="572.50" y2="359.30"/><line x1="649.50" y1="351.50" x2="649.50" y2="359.30"/><rect x="99.50" y="373.50" width="620.00" height="110.00" fill="none" stroke="#000" stroke-width="1.10"/><line x1="105.50" y1="483.50" x2="105.50" y2="491.30"/><line x1="183.50" y1="483.50" x2="183.50" y2="491.30"/><line x1="261.50" y1="483.50" x2="261.50" y2="491.30"/><line x1="338.50" y1="483.50" x2="338.50" y2="491.30"/><line x1="416.50" y1="483.50" x2="416.50" y2="491.30"/><line x1="494.50" y1="483.50" x2="494.50" y2="491.30"/><line x1="572.50" y1="483.50" x2="572.50" y2="491.30"/><line x1="649.50" y1="483.50" x2="649.50" y2="491.30"/><rect x="99.50" y="505.50" width="620.00" height="110.00" fill="none" stroke="#000" stroke-width="1.10"/><line x1="105.50" y1="615.50" x2="105.50" y2="623.30"/><line x1="183.50" y1="615.50" x2="183.50" y2="623.30"/><line x1="261.50" y1="615.50" x2="261.50" y2="623.30"/><line x1="338.50" y1="615.50" x2="338.50" y2="623.30"/><line x1="416.50" y1="615.50" x2="416.50" y2="623.30"/><line x1="494.50" y1="615.50" x2="494.50" y2="623.30"/><line x1="572.50" y1="615.50" x2="572.50" y2="623.30"/><line x1="649.50" y1="615.50" x2="649.50" y2="623.30"/><rect x="99.50" y="637.50" width="620.00" height="110.00" fill="none" stroke="#000" stroke-width="1.10"/><line x1="105.50" y1="747.50" x2="105.50" y2="755.30"/><line x1="183.50" y1="747.50" x2="183.50" y2="755.30"/><line x1="261.50" y1="747.50" x2="261.50" y2="755.30"/><line x1="338.50" y1="747.50" x2="338.50" y2="755.30"/><line x1="416.50" y1="747.50" x2="416.50" y2="755.30"/><line x1="494.50" y1="747.50" x2="494.50" y2="755.30"/><line x1="572.50" y1="747.50" x2="572.50" y2="755.30"/><line x1="649.50" y1="747.50" x2="649.50" y2="755.30"/><rect x="99.50" y="769.50" width="620.00" height="110.00" fill="none" stroke="#000" stroke-width="1.10"/><line x1="105.50" y1="879.50" x2="105.50" y2="887.30"/><line x1="183.50" y1="879.50" x2="183.50" y2="887.30"/><line x1="261.50" y1="879.50" x2="261.50" y2="887.30"/><line x1="338.50" y1="879.50" x2="338.50" y2="887.30"/><line x1="416.50" y1="879.50" x2="416.50" y2="887.30"/><line x1="494.50" y1="879.50" x2="494.50" y2="887.30"/><line x1="572.50" y1="879.50" x2="572.50" y2="887.30"/><line x1="649.50" y1="879.50" x2="649.50" y2="887.30"/><line x1="91.90" y1="109.50" x2="99.50" y2="109.50"/><line x1="91.90" y1="146.50" x2="99.50" y2="146.50"/><line x1="91.90" y1="183.50" x2="99.50" y2="183.50"/><line x1="91.90" y1="219.50" x2="99.50" y2="219.50"/><line x1="91.90" y1="241.50" x2="99.50" y2="241.50"/><line x1="91.90" y1="278.50" x2="99.50" y2="278.50"/><line x1="91.90" y1="315.50" x2="99.50" y2="315.50"/><line x1="91.90" y1="351.50" x2="99.50" y2="351.50"/><line x1="91.90" y1="405.50" x2="99.50" y2="405.50"/><line x1="91.90" y1="470.50" x2="99.50" y2="470.50"/><line x1="91.90" y1="505.50" x2="99.50" y2="505.50"/><line x1="91.90" y1="542.50" x2="99.50" y2="542.50"/><line x1="91.90" y1="579.50" x2="99.50" y2="579.50"/><line x1="91.90" y1="615.50" x2="99.50" y2="615.50"/><line x1="91.90" y1="637.50" x2="99.50" y2="637.50"/><line x1="91.90" y1="692.50" x2="99.50" y2="692.50"/><line x1="91.90" y1="747.50" x2="99.50" y2="747.50"/><line x1="91.90" y1="769.50" x2="99.50" y2="769.50"/><line x1="91.90" y1="824.50" x2="99.50" y2="824.50"/><line x1="91.90" y1="879.50" x2="99.50" y2="879.50"/></g>
<text transform="translate(364.78,24.00) scale(1.4520,1.3123)" font-size="16">000511</text>
<text transform="translate(32.41,114.56) scale(1.2295,1.0175)" font-size="16">0.0062</text>
<text transform="translate(32.49,152.41) scale(1.2172,1.0307)" font-size="16">0.0060</text>
<text transform="translate(32.45,189.08) scale(1.2252,0.9759)" font-size="16">0.0058</text>
<text transform="translate(32.47,224.74) scale(1.2147,0.9737)" font-size="16">0.0056</text>
<text transform="translate(61.69,246.60) scale(1.2547,0.9981)" font-size="16">2.1</text>
<text transform="translate(61.73,284.28) scale(1.2199,1.0279)" font-size="16">2.0</text>
<text transform="translate(60.18,321.08) scale(1.3059,1.0180)" font-size="16">1.9</text>
<text transform="translate(60.18,356.64) scale(1.2983,1.0099)" font-size="16">1.8</text>
<text transform="translate(32.65,410.76) scale(1.2164,1.0248)" font-size="16">0.0033</text>
<text transform="translate(32.74,476.43) scale(1.2196,0.9786)" font-size="16">0.0032</text>
<text transform="translate(57.03,510.90) scale(1.2112,0.9397)" font-size="16">150</text>
<text transform="translate(56.88,547.65) scale(1.2151,1.0447)" font-size="16">100</text>
<text transform="translate(66.44,585.38) scale(1.2262,0.9519)" font-size="16">50</text>
<text transform="translate(77.06,621.31) scale(1.1317,1.0707)" font-size="16">0</text>
<text transform="translate(50.01,642.76) scale(1.2487,0.9761)" font-size="16">−0.5</text>
<text transform="translate(49.92,697.89) scale(1.2574,0.9821)" font-size="16">−1.0</text>
<text transform="translate(49.94,752.63) scale(1.2515,0.9633)" font-size="16">−1.5</text>
<text transform="translate(76.62,775.02) scale(1.1979,0.9492)" font-size="16">5</text>
<text transform="translate(77.06,830.31) scale(1.1317,1.0707)" font-size="16">0</text>
<text transform="translate(66.91,885.37) scale(1.1186,0.9756)" font-size="16">−5</text>
<text transform="translate(81.18,903.56) scale(1.2021,0.9846)" font-size="16">55000</text>
<text transform="translate(158.54,904.13) scale(1.2078,1.0326)" font-size="16">55200</text>
<text transform="translate(236.62,904.05) scale(1.2024,1.0081)" font-size="16">55400</text>
<text transform="translate(314.32,903.74) scale(1.2016,1.0108)" font-size="16">55600</text>
<text transform="translate(391.85,904.15) scale(1.2089,1.0261)" font-size="16">55800</text>
<text transform="translate(469.46,903.66) scale(1.2085,0.9947)" font-size="16">56000</text>
<text transform="translate(547.42,904.13) scale(1.2007,1.0326)" font-size="16">56200</text>
<text transform="translate(625.02,904.34) scale(1.2057,1.0520)" font-size="16">56400</text>
<text transform="translate(99.37,237.95) scale(1.2628,1.0230)" font-size="16">1e−5</text>
<text transform="translate(392.71,924.10) scale(1.0479,1.0187)" font-size="16">MJD</text>
<text transform="translate(21.23,170.33) rotate(-90) scale(1.0188,0.9266)" font-size="16"><tspan font-style="italic">g</tspan></text>
<text transform="translate(50.55,318.64) rotate(-90) scale(1.0612,0.9049)" font-size="16"><tspan font-style="italic">σ</tspan><tspan font-size="70%" dy="0.25em">0</tspan><tspan dy="-0.25em"> [V]</tspan></text>
<text transform="translate(21.04,457.69) rotate(-90) scale(1.1130,0.8973)" font-size="16"><tspan font-style="italic">σ</tspan><tspan font-size="70%" dy="0.25em">0</tspan><tspan dy="-0.25em"> [mK]</tspan></text>
<text transform="translate(44.21,601.77) rotate(-90) scale(1.1391,0.7205)" font-size="16"><tspan font-style="italic">f</tspan><tspan font-size="70%" dy="0.25em">knee</tspan><tspan dy="-0.25em"> [mHz]</tspan></text>
<text transform="translate(40.57,698.21) rotate(-90) scale(0.9833,1.0035)" font-size="16"><tspan font-style="italic">α</tspan></text>
<text transform="translate(50.40,832.39) rotate(-90) scale(1.1267,0.9997)" font-size="16"><tspan font-style="italic">χ</tspan><tspan font-size="70%" dy="-0.45em">2</tspan></text>
</svg></body></html>
